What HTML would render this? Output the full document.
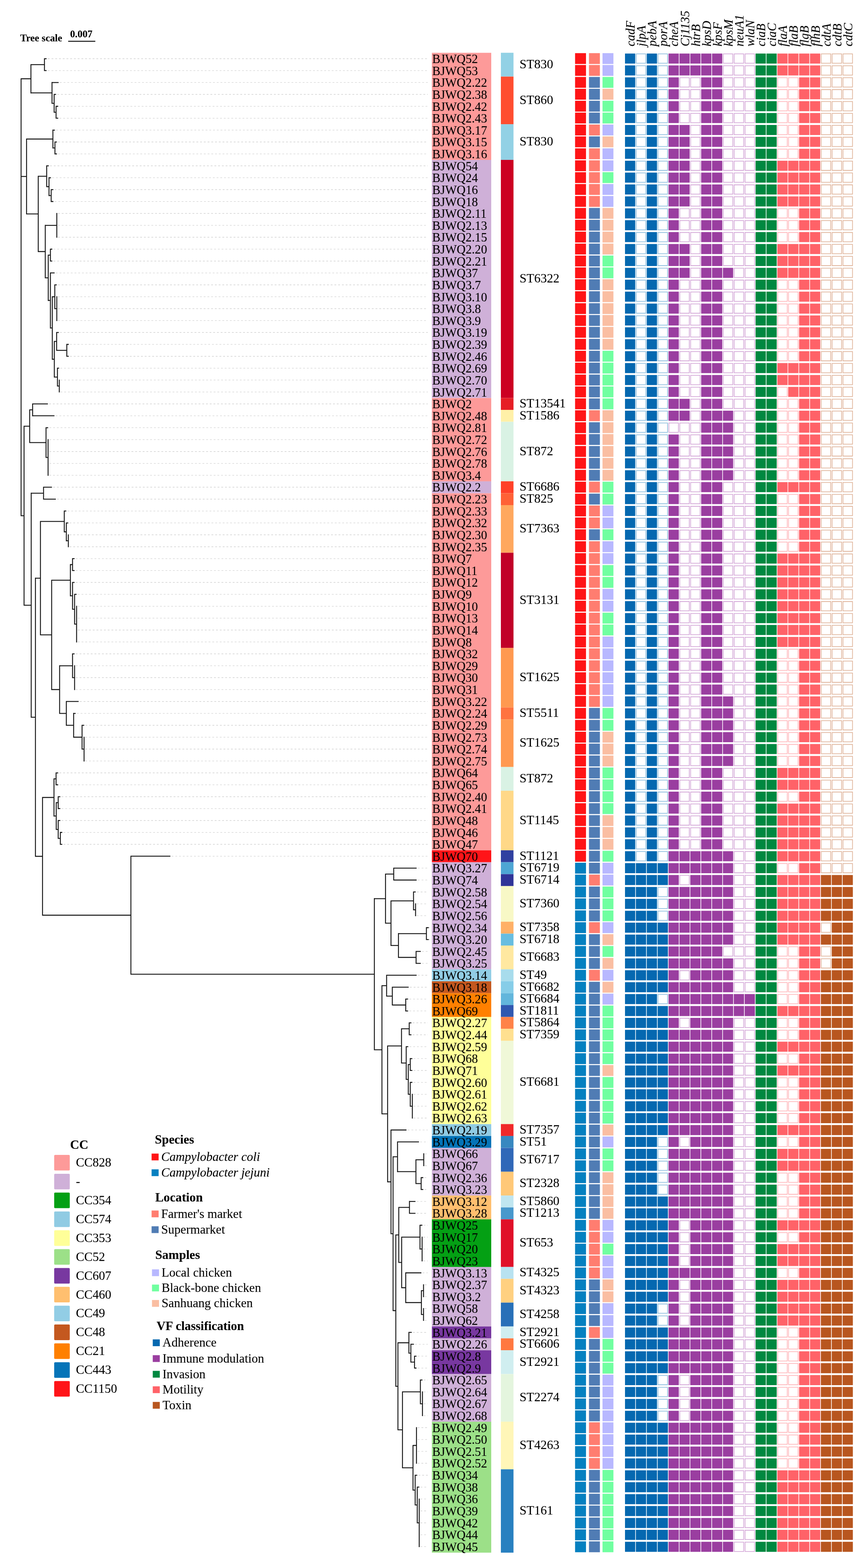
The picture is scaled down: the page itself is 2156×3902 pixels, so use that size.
<!DOCTYPE html>
<html lang="en"><head><meta charset="utf-8"><title>Phylogenetic tree of Campylobacter isolates</title>
<style>html,body{margin:0;padding:0;background:#fff}svg{display:block}text{font-family:"Liberation Serif","DejaVu Serif",serif;fill:#000;stroke:#000;stroke-width:.1px}.lb{font-size:30.6px}.st{font-size:31.4px}.hd{font-size:31px;font-style:italic}.lg{font-size:31.1px}.lt{font-size:31.4px;font-weight:bold}.it{font-style:italic}.ts{font-size:24.8px;font-weight:bold}</style></head><body>
<svg width="2156" height="3902" viewBox="0 0 2156 3902">
<rect width="2156" height="3902" fill="#fff"/>
<path d="M119 146.1H1065M119 175.7H1065M148 264.5H1065M148 294.2H1065M142.6 234.9H1065M149 205.3H1065M144.8 353.4H1065M144.8 383H1065M139.8 323.8H1065M135.9 471.9H1065M135.9 501.5H1065M130 442.3H1065M124.6 412.6H1065M144.4 531.1H1065M144.4 560.8H1065M144.4 590.4H1065M133.2 620H1065M133.2 649.6H1065M144.4 738.5H1065M144.4 768.1H1065M144.4 797.7H1065M144.4 708.9H1065M174.3 857H1065M174.3 886.6H1065M149.5 827.4H1065M150.6 945.8H1065M150.6 975.5H1065M150.2 916.2H1065M139 679.2H1065M122.3 1005.1H1065M138.6 1034.7H1065M122.7 1094H1065M122.7 1123.6H1065M122.7 1153.2H1065M122.7 1182.8H1065M123 1064.3H1065M132.4 1212.4H1065M142.1 1242.1H1065M173.1 1330.9H1065M173.1 1360.6H1065M173.1 1301.3H1065M168.1 1271.7H1065M188.7 1390.2H1065M188.7 1419.8H1065M193.7 1508.7H1065M193.7 1538.3H1065M193.7 1567.9H1065M193.7 1597.5H1065M193.7 1479H1065M188.7 1449.4H1065M188.7 1656.8H1065M188.7 1686.4H1065M188.7 1716H1065M188.7 1627.1H1065M212.3 1834.5H1065M212.3 1864.1H1065M212.3 1893.7H1065M212.7 1804.9H1065M191.4 1775.3H1065M198.8 1745.6H1065M147.9 1923.4H1065M147.9 1953H1065M153.2 1982.6H1065M153.2 2012.2H1065M158.1 2071.5H1065M158.1 2101.1H1065M153.2 2041.9H1065M1040.3 2160.3H1065M1040.3 2190H1065M1037.6 2249.2H1065M1037.6 2278.8H1065M1038 2219.6H1065M1070.4 2308.5H1065M1070.4 2338.1H1065M1050.6 2367.7H1065M1050.6 2397.3H1065M1019.1 2486.2H1065M1019.1 2515.8H1065M1020.5 2456.6H1065M1040.3 2426.9H1065M1027.3 2545.4H1065M1027.3 2575.1H1065M1029.6 2634.3H1065M1029.6 2663.9H1065M1029.6 2723.2H1065M1029.6 2752.8H1065M1029.6 2782.4H1065M1029.6 2693.5H1065M1019.5 2604.7H1065M1058 2871.3H1065M1058 2900.9H1065M1056.8 2930.5H1065M1056.8 2960.1H1065M1046.1 2841.7H1065M1037.4 2989.8H1065M1037.4 3019.4H1065M1053.9 3078.6H1065M1053.9 3108.2H1065M1053.9 3137.9H1065M1054.5 3049H1065M1057.4 3197.1H1065M1057.4 3226.7H1065M1057.4 3256.4H1065M1057.4 3286H1065M1052.1 3167.5H1065M1039.9 3374.8H1065M1039.9 3404.5H1065M1033.5 3345.2H1065M1028.2 3315.6H1065M1054.8 3463.7H1065M1054.8 3493.3H1065M1054.8 3523H1065M1054.8 3434.1H1065M1039.9 3552.6H1065M1039.9 3582.2H1065M1039.9 3611.8H1065M1039.9 3641.4H1065M1046.7 3730.3H1065M1046.7 3759.9H1065M1046.7 3789.6H1065M1046.7 3819.2H1065M1046.7 3848.8H1065M1047.1 3700.7H1065M1041.8 3671.1H1065M1015 2812H1065M427.2 2130.7H1065" fill="none" stroke="#c8c8c8" stroke-width="1.1" stroke-dasharray="4.6 4.7"/>
<path d="M110.7 144.9V176.8M139.6 263.4V295.3M134.8 233.8V280.5M129.5 204.1V258.3M77 159.7V232.4M136.8 352.3V384.2M131.7 322.6V369.4M127.4 470.7V502.7M122 441.1V487.9M116.2 411.5V465.6M141.4 530V591.5M125.5 618.9V650.8M141.4 737.3V798.9M136.4 707.7V769.3M166.3 855.8V887.7M141 826.2V872.9M147.6 944.7V976.6M143 915.1V961.8M135.2 848.4V939.6M130.2 737.3V895.2M125.5 678.1V817.4M120.1 633.7V748.9M112.7 559.6V692.4M95.2 437.4V627.2M66.1 344.8V533.4M81.2 1003.9V1035.9M119.7 1092.8V1184M114.6 1063.2V1139.5M73.9 1018.7V1102.5M108.4 1211.3V1243.2M170.1 1329.8V1361.7M165.1 1300.2V1346.9M160 1270.5V1324.7M180.6 1389V1420.9M190.7 1507.5V1598.7M185.7 1477.9V1554.2M180.6 1448.3V1517.2M175.2 1403.8V1483.9M185.7 1655.6V1717.2M180.6 1626V1687.5M209.3 1833.4V1894.9M204.3 1803.7V1865.3M183.3 1774.1V1835.7M165.1 1744.5V1806M148.4 1655.6V1776.4M128.6 1442.7V1717.2M100.7 1296.5V1581.1M139.6 1922.2V1954.1M144.9 1981.5V2013.4M150.2 2070.3V2102.3M144.9 2040.7V2087.4M140 1996.3V2065.2M134.4 1937V2031.9M980.2 2159.2V2191.1M1034.6 2248.1V2280M1029.5 2218.4V2265.2M1061.6 2307.3V2339.2M1035.9 2366.6V2398.5M992 2322.1V2383.7M973.4 2240.7V2354M959.8 2174V2298.5M1010.1 2485V2517M976.7 2455.4V2502.1M962.5 2425.8V2479.9M1018.8 2544.3V2576.2M1021.4 2633.1V2665.1M1026.6 2722V2783.6M1021.4 2692.4V2753.9M1016.5 2648V2724.3M1011.3 2603.5V2687.3M999.6 2559.1V2646.6M1055 2870.1V2902M1048.5 2929.4V2961.3M1035.5 2884.9V2946.5M989.7 2840.5V2916.9M1019.4 2988.6V3020.5M1050.9 3077.5V3139M1045.6 3047.9V3109.4M1054.4 3196V3227.9M1054.4 3255.2V3287.1M1049.1 3210.8V3272.3M1010.1 3166.3V3242.7M1000 3077.5V3205.7M992.8 3003.4V3142.7M1032 3373.7V3405.6M1022.9 3344.1V3390.8M1018 3314.5V3368.6M1051.8 3462.6V3524.1M1046.6 3432.9V3494.5M1036.9 3551.4V3642.6M1043.7 3729.2V3850M1038.8 3699.5V3790.7M1033.6 3669.9V3746.3M1028.2 3595.9V3709.2M1002 3462.6V3653.7M990.7 3340.4V3559.3M985.4 3071.9V3451M978.6 2877.5V3262.6M973.4 2810.9V3071.2M965 2601.7V2942.2M950.9 2451.7V2773.1M932 2235.1V2613.5M325.9 2129.6V2425.5M105.9 1983.3V2278.7M88.2 1437.6V2132.1M77.7 1226.1V1786M59.9 1059.5V1507.2M52.5 194.9V1284.5M110.7 146.1H116M110.7 175.7H116M139.6 264.5H145M139.6 294.2H145M134.8 234.9H139.6M134.8 279.3H139.6M129.5 205.3H146M129.5 257.1H134.8M77 160.9H110.7M77 231.2H129.5M136.8 353.4H141.8M136.8 383H141.8M131.7 323.8H136.8M131.7 368.2H136.8M127.4 471.9H132.9M127.4 501.5H132.9M122 442.3H127M122 486.7H127.4M116.2 412.6H121.6M116.2 464.5H122M125.5 620H130.2M125.5 649.6H130.2M136.4 708.9H141.4M136.4 768.1H141.4M166.3 857H171.3M166.3 886.6H171.3M141 827.4H146.5M141 871.8H166.3M143 916.2H147.2M143 960.7H147.6M135.2 849.6H141M135.2 938.4H143M130.2 738.5H136.4M130.2 894H135.2M125.5 679.2H136M125.5 816.2H130.2M120.1 634.8H125.5M120.1 747.7H125.5M112.7 560.8H141.4M112.7 691.3H120.1M95.2 438.6H116.2M95.2 626H112.7M66.1 346H131.7M66.1 532.3H95.2M81.2 1005.1H119.3M81.2 1034.7H135.6M114.6 1064.3H120M114.6 1138.4H119.7M73.9 1019.9H81.2M73.9 1101.4H114.6M108.4 1212.4H129.4M108.4 1242.1H139.1M165.1 1301.3H170.1M165.1 1345.7H170.1M160 1271.7H165.1M160 1323.5H165.1M180.6 1390.2H185.7M180.6 1419.8H185.7M185.7 1479H190.7M185.7 1553.1H190.7M180.6 1449.4H185.7M180.6 1516.1H185.7M175.2 1405H180.6M175.2 1482.7H180.6M180.6 1627.1H185.7M180.6 1686.4H185.7M204.3 1804.9H209.7M204.3 1864.1H209.3M183.3 1775.3H188.4M183.3 1834.5H204.3M165.1 1745.6H195.8M165.1 1804.9H183.3M148.4 1656.8H180.6M148.4 1775.3H165.1M128.6 1443.9H175.2M128.6 1716H148.4M100.7 1297.6H160M100.7 1579.9H128.6M139.6 1923.4H144.9M139.6 1953H144.9M144.9 1982.6H150.2M144.9 2012.2H150.2M150.2 2071.5H155.1M150.2 2101.1H155.1M144.9 2041.9H150.2M144.9 2086.3H150.2M140 1997.4H144.9M140 2064.1H144.9M134.4 1938.2H139.6M134.4 2030.7H140M980.2 2160.3H1037.3M980.2 2190H1037.3M1029.5 2219.6H1035M1029.5 2264H1034.6M1061.6 2308.5H1067.4M1061.6 2338.1H1067.4M1035.9 2367.7H1047.6M1035.9 2397.3H1047.6M992 2323.3H1061.6M992 2382.5H1035.9M973.4 2241.8H1029.5M973.4 2352.9H992M959.8 2175.2H980.2M959.8 2297.3H973.4M1010.1 2486.2H1016.1M1010.1 2515.8H1016.1M976.7 2456.6H1017.5M976.7 2501H1010.1M962.5 2426.9H1037.3M962.5 2478.8H976.7M1018.8 2545.4H1024.3M1018.8 2575.1H1024.3M1021.4 2634.3H1026.6M1021.4 2663.9H1026.6M1021.4 2693.5H1026.6M1021.4 2752.8H1026.6M1016.5 2649.1H1021.4M1016.5 2723.2H1021.4M1011.3 2604.7H1016.5M1011.3 2686.1H1016.5M999.6 2560.2H1018.8M999.6 2645.4H1011.3M1048.5 2930.5H1053.8M1048.5 2960.1H1053.8M1035.5 2886.1H1055M1035.5 2945.3H1048.5M989.7 2841.7H1043.1M989.7 2915.7H1035.5M1019.4 2989.8H1034.4M1019.4 3019.4H1034.4M1045.6 3049H1051.5M1045.6 3108.2H1050.9M1049.1 3211.9H1054.4M1049.1 3271.2H1054.4M1010.1 3167.5H1049.1M1010.1 3241.5H1049.1M1000 3078.6H1045.6M1000 3204.5H1010.1M992.8 3004.6H1019.4M992.8 3141.6H1000M1032 3374.8H1036.9M1032 3404.5H1036.9M1022.9 3345.2H1030.5M1022.9 3389.7H1032M1018 3315.6H1025.2M1018 3367.4H1022.9M1046.6 3434.1H1051.8M1046.6 3493.3H1051.8M1038.8 3700.7H1044.1M1038.8 3789.6H1043.7M1033.6 3671.1H1038.8M1033.6 3745.1H1038.8M1028.2 3597H1036.9M1028.2 3708.1H1033.6M1002 3463.7H1046.6M1002 3652.6H1028.2M990.7 3341.5H1018M990.7 3558.1H1002M985.4 3073.1H992.8M985.4 3449.8H990.7M978.6 2878.7H989.7M978.6 3261.5H985.4M973.4 2812H1012M973.4 3070.1H978.6M965 2602.8H999.6M965 2941H973.4M950.9 2452.9H962.5M950.9 2771.9H965M932 2236.3H959.8M932 2612.4H950.9M325.9 2130.7H424.2M325.9 2424.3H932M105.9 1984.5H134.4M105.9 2277.5H325.9M88.2 1438.8H100.7M88.2 2131H105.9M77.7 1227.3H108.4M77.7 1784.9H88.2M59.9 1060.6H73.9M59.9 1506.1H77.7M52.5 196H77M52.5 439.1H66.1M52.5 1283.3H59.9" fill="none" stroke="#161616" stroke-width="2.3"/>
<text class="ts" x="50.3" y="102.7">Tree scale</text>
<text class="ts" x="174.4" y="93.3">0.007</text>
<path d="M169.7 102.7H237.3" stroke="#1c1c1c" stroke-width="2.5"/>
<rect x="1075.2" y="131.4" width="147.8" height="266.6" fill="#fd9a99"/>
<rect x="1075.2" y="398" width="147.8" height="592.4" fill="#cfb0d8"/>
<rect x="1075.2" y="990.5" width="147.8" height="207.4" fill="#fd9a99"/>
<rect x="1075.2" y="1197.8" width="147.8" height="29.6" fill="#cfb0d8"/>
<rect x="1075.2" y="1227.5" width="147.8" height="888.7" fill="#fd9a99"/>
<rect x="1075.2" y="2116.1" width="147.8" height="29.6" fill="#ff1418"/>
<rect x="1075.2" y="2145.7" width="147.8" height="266.6" fill="#cfb0d8"/>
<rect x="1075.2" y="2412.3" width="147.8" height="29.6" fill="#92cde5"/>
<rect x="1075.2" y="2442" width="147.8" height="29.6" fill="#c4581f"/>
<rect x="1075.2" y="2471.6" width="147.8" height="59.2" fill="#ff8000"/>
<rect x="1075.2" y="2530.8" width="147.8" height="266.6" fill="#ffff99"/>
<rect x="1075.2" y="2797.4" width="147.8" height="29.6" fill="#90cbe3"/>
<rect x="1075.2" y="2827" width="147.8" height="29.6" fill="#0574b8"/>
<rect x="1075.2" y="2856.7" width="147.8" height="118.5" fill="#cfb0d8"/>
<rect x="1075.2" y="2975.2" width="147.8" height="59.2" fill="#ffbf6f"/>
<rect x="1075.2" y="3034.4" width="147.8" height="118.5" fill="#04a014"/>
<rect x="1075.2" y="3152.9" width="147.8" height="148.1" fill="#cfb0d8"/>
<rect x="1075.2" y="3301" width="147.8" height="29.6" fill="#7838a0"/>
<rect x="1075.2" y="3330.6" width="147.8" height="29.6" fill="#cfb0d8"/>
<rect x="1075.2" y="3360.2" width="147.8" height="59.2" fill="#7838a0"/>
<rect x="1075.2" y="3419.5" width="147.8" height="118.5" fill="#cfb0d8"/>
<rect x="1075.2" y="3538" width="147.8" height="325.8" fill="#9ce088"/>
<rect x="1247" y="131.3" width="31.4" height="59.2" fill="#92d1e5"/>
<rect x="1247" y="190.6" width="31.4" height="118.5" fill="#ff4d30"/>
<rect x="1247" y="309.1" width="31.4" height="88.9" fill="#92d1e5"/>
<rect x="1247" y="397.9" width="31.4" height="592.4" fill="#cc0022"/>
<rect x="1247" y="990.4" width="31.4" height="29.6" fill="#e61e25"/>
<rect x="1247" y="1020" width="31.4" height="29.6" fill="#fff0a8"/>
<rect x="1247" y="1049.6" width="31.4" height="148.1" fill="#d9f2e4"/>
<rect x="1247" y="1197.7" width="31.4" height="29.6" fill="#ff4128"/>
<rect x="1247" y="1227.4" width="31.4" height="29.6" fill="#ff6136"/>
<rect x="1247" y="1257" width="31.4" height="118.5" fill="#ffa85e"/>
<rect x="1247" y="1375.5" width="31.4" height="237" fill="#c10028"/>
<rect x="1247" y="1612.4" width="31.4" height="148.1" fill="#ff9950"/>
<rect x="1247" y="1760.5" width="31.4" height="29.6" fill="#ff7340"/>
<rect x="1247" y="1790.2" width="31.4" height="118.5" fill="#ff9950"/>
<rect x="1247" y="1908.7" width="31.4" height="59.2" fill="#d9f2e4"/>
<rect x="1247" y="1967.9" width="31.4" height="148.1" fill="#ffd888"/>
<rect x="1247" y="2116" width="31.4" height="29.6" fill="#3040a0"/>
<rect x="1247" y="2145.6" width="31.4" height="29.6" fill="#4ea6d4"/>
<rect x="1247" y="2175.3" width="31.4" height="29.6" fill="#303498"/>
<rect x="1247" y="2204.9" width="31.4" height="88.9" fill="#f8f8c6"/>
<rect x="1247" y="2293.7" width="31.4" height="29.6" fill="#ffb066"/>
<rect x="1247" y="2323.4" width="31.4" height="29.6" fill="#68bde0"/>
<rect x="1247" y="2353" width="31.4" height="59.2" fill="#ffe8a0"/>
<rect x="1247" y="2412.2" width="31.4" height="29.6" fill="#a8dcec"/>
<rect x="1247" y="2441.9" width="31.4" height="29.6" fill="#86cde8"/>
<rect x="1247" y="2471.5" width="31.4" height="29.6" fill="#62b6dc"/>
<rect x="1247" y="2501.1" width="31.4" height="29.6" fill="#3058b0"/>
<rect x="1247" y="2530.7" width="31.4" height="29.6" fill="#ff8248"/>
<rect x="1247" y="2560.3" width="31.4" height="29.6" fill="#ffe090"/>
<rect x="1247" y="2590" width="31.4" height="207.4" fill="#f0f8d8"/>
<rect x="1247" y="2797.3" width="31.4" height="29.6" fill="#f02828"/>
<rect x="1247" y="2826.9" width="31.4" height="29.6" fill="#3888c0"/>
<rect x="1247" y="2856.6" width="31.4" height="59.2" fill="#3068b8"/>
<rect x="1247" y="2915.8" width="31.4" height="59.2" fill="#ffc878"/>
<rect x="1247" y="2975.1" width="31.4" height="29.6" fill="#c0e6f0"/>
<rect x="1247" y="3004.7" width="31.4" height="29.6" fill="#4898cc"/>
<rect x="1247" y="3034.3" width="31.4" height="118.5" fill="#e01028"/>
<rect x="1247" y="3152.8" width="31.4" height="29.6" fill="#b8e2f0"/>
<rect x="1247" y="3182.4" width="31.4" height="59.2" fill="#ffd080"/>
<rect x="1247" y="3241.6" width="31.4" height="59.2" fill="#2870b8"/>
<rect x="1247" y="3300.9" width="31.4" height="29.6" fill="#d0eef0"/>
<rect x="1247" y="3330.5" width="31.4" height="29.6" fill="#ff7840"/>
<rect x="1247" y="3360.1" width="31.4" height="59.2" fill="#d0eef0"/>
<rect x="1247" y="3419.4" width="31.4" height="118.5" fill="#e4f5de"/>
<rect x="1247" y="3537.9" width="31.4" height="118.5" fill="#fff6b8"/>
<rect x="1247" y="3656.4" width="31.4" height="207.4" fill="#2880c0"/>
<g class="lb">
<text x="1075.9" y="157.1">BJWQ52</text>
<text x="1075.9" y="186.7">BJWQ53</text>
<text x="1075.9" y="216.3">BJWQ2.22</text>
<text x="1075.9" y="245.9">BJWQ2.38</text>
<text x="1075.9" y="275.5">BJWQ2.42</text>
<text x="1075.9" y="305.2">BJWQ2.43</text>
<text x="1075.9" y="334.8">BJWQ3.17</text>
<text x="1075.9" y="364.4">BJWQ3.15</text>
<text x="1075.9" y="394">BJWQ3.16</text>
<text x="1075.9" y="423.6">BJWQ54</text>
<text x="1075.9" y="453.3">BJWQ24</text>
<text x="1075.9" y="482.9">BJWQ16</text>
<text x="1075.9" y="512.5">BJWQ18</text>
<text x="1075.9" y="542.1">BJWQ2.11</text>
<text x="1075.9" y="571.8">BJWQ2.13</text>
<text x="1075.9" y="601.4">BJWQ2.15</text>
<text x="1075.9" y="631">BJWQ2.20</text>
<text x="1075.9" y="660.6">BJWQ2.21</text>
<text x="1075.9" y="690.2">BJWQ37</text>
<text x="1075.9" y="719.9">BJWQ3.7</text>
<text x="1075.9" y="749.5">BJWQ3.10</text>
<text x="1075.9" y="779.1">BJWQ3.8</text>
<text x="1075.9" y="808.7">BJWQ3.9</text>
<text x="1075.9" y="838.4">BJWQ3.19</text>
<text x="1075.9" y="868">BJWQ2.39</text>
<text x="1075.9" y="897.6">BJWQ2.46</text>
<text x="1075.9" y="927.2">BJWQ2.69</text>
<text x="1075.9" y="956.8">BJWQ2.70</text>
<text x="1075.9" y="986.5">BJWQ2.71</text>
<text x="1075.9" y="1016.1">BJWQ2</text>
<text x="1075.9" y="1045.7">BJWQ2.48</text>
<text x="1075.9" y="1075.3">BJWQ2.81</text>
<text x="1075.9" y="1105">BJWQ2.72</text>
<text x="1075.9" y="1134.6">BJWQ2.76</text>
<text x="1075.9" y="1164.2">BJWQ2.78</text>
<text x="1075.9" y="1193.8">BJWQ3.4</text>
<text x="1075.9" y="1223.4">BJWQ2.2</text>
<text x="1075.9" y="1253.1">BJWQ2.23</text>
<text x="1075.9" y="1282.7">BJWQ2.33</text>
<text x="1075.9" y="1312.3">BJWQ2.32</text>
<text x="1075.9" y="1341.9">BJWQ2.30</text>
<text x="1075.9" y="1371.6">BJWQ2.35</text>
<text x="1075.9" y="1401.2">BJWQ7</text>
<text x="1075.9" y="1430.8">BJWQ11</text>
<text x="1075.9" y="1460.4">BJWQ12</text>
<text x="1075.9" y="1490">BJWQ9</text>
<text x="1075.9" y="1519.7">BJWQ10</text>
<text x="1075.9" y="1549.3">BJWQ13</text>
<text x="1075.9" y="1578.9">BJWQ14</text>
<text x="1075.9" y="1608.5">BJWQ8</text>
<text x="1075.9" y="1638.1">BJWQ32</text>
<text x="1075.9" y="1667.8">BJWQ29</text>
<text x="1075.9" y="1697.4">BJWQ30</text>
<text x="1075.9" y="1727">BJWQ31</text>
<text x="1075.9" y="1756.6">BJWQ3.22</text>
<text x="1075.9" y="1786.3">BJWQ2.24</text>
<text x="1075.9" y="1815.9">BJWQ2.29</text>
<text x="1075.9" y="1845.5">BJWQ2.73</text>
<text x="1075.9" y="1875.1">BJWQ2.74</text>
<text x="1075.9" y="1904.7">BJWQ2.75</text>
<text x="1075.9" y="1934.4">BJWQ64</text>
<text x="1075.9" y="1964">BJWQ65</text>
<text x="1075.9" y="1993.6">BJWQ2.40</text>
<text x="1075.9" y="2023.2">BJWQ2.41</text>
<text x="1075.9" y="2052.9">BJWQ48</text>
<text x="1075.9" y="2082.5">BJWQ46</text>
<text x="1075.9" y="2112.1">BJWQ47</text>
<text x="1075.9" y="2141.7">BJWQ70</text>
<text x="1075.9" y="2171.3">BJWQ3.27</text>
<text x="1075.9" y="2201">BJWQ74</text>
<text x="1075.9" y="2230.6">BJWQ2.58</text>
<text x="1075.9" y="2260.2">BJWQ2.54</text>
<text x="1075.9" y="2289.8">BJWQ2.56</text>
<text x="1075.9" y="2319.5">BJWQ2.34</text>
<text x="1075.9" y="2349.1">BJWQ3.20</text>
<text x="1075.9" y="2378.7">BJWQ2.45</text>
<text x="1075.9" y="2408.3">BJWQ3.25</text>
<text x="1075.9" y="2437.9">BJWQ3.14</text>
<text x="1075.9" y="2467.6">BJWQ3.18</text>
<text x="1075.9" y="2497.2">BJWQ3.26</text>
<text x="1075.9" y="2526.8">BJWQ69</text>
<text x="1075.9" y="2556.4">BJWQ2.27</text>
<text x="1075.9" y="2586.1">BJWQ2.44</text>
<text x="1075.9" y="2615.7">BJWQ2.59</text>
<text x="1075.9" y="2645.3">BJWQ68</text>
<text x="1075.9" y="2674.9">BJWQ71</text>
<text x="1075.9" y="2704.5">BJWQ2.60</text>
<text x="1075.9" y="2734.2">BJWQ2.61</text>
<text x="1075.9" y="2763.8">BJWQ2.62</text>
<text x="1075.9" y="2793.4">BJWQ2.63</text>
<text x="1075.9" y="2823">BJWQ2.19</text>
<text x="1075.9" y="2852.7">BJWQ3.29</text>
<text x="1075.9" y="2882.3">BJWQ66</text>
<text x="1075.9" y="2911.9">BJWQ67</text>
<text x="1075.9" y="2941.5">BJWQ2.36</text>
<text x="1075.9" y="2971.1">BJWQ3.23</text>
<text x="1075.9" y="3000.8">BJWQ3.12</text>
<text x="1075.9" y="3030.4">BJWQ3.28</text>
<text x="1075.9" y="3060">BJWQ25</text>
<text x="1075.9" y="3089.6">BJWQ17</text>
<text x="1075.9" y="3119.2">BJWQ20</text>
<text x="1075.9" y="3148.9">BJWQ23</text>
<text x="1075.9" y="3178.5">BJWQ3.13</text>
<text x="1075.9" y="3208.1">BJWQ2.37</text>
<text x="1075.9" y="3237.7">BJWQ3.2</text>
<text x="1075.9" y="3267.4">BJWQ58</text>
<text x="1075.9" y="3297">BJWQ62</text>
<text x="1075.9" y="3326.6">BJWQ3.21</text>
<text x="1075.9" y="3356.2">BJWQ2.26</text>
<text x="1075.9" y="3385.8">BJWQ2.8</text>
<text x="1075.9" y="3415.5">BJWQ2.9</text>
<text x="1075.9" y="3445.1">BJWQ2.65</text>
<text x="1075.9" y="3474.7">BJWQ2.64</text>
<text x="1075.9" y="3504.3">BJWQ2.67</text>
<text x="1075.9" y="3534">BJWQ2.68</text>
<text x="1075.9" y="3563.6">BJWQ2.49</text>
<text x="1075.9" y="3593.2">BJWQ2.50</text>
<text x="1075.9" y="3622.8">BJWQ2.51</text>
<text x="1075.9" y="3652.4">BJWQ2.52</text>
<text x="1075.9" y="3682.1">BJWQ34</text>
<text x="1075.9" y="3711.7">BJWQ38</text>
<text x="1075.9" y="3741.3">BJWQ36</text>
<text x="1075.9" y="3770.9">BJWQ39</text>
<text x="1075.9" y="3800.6">BJWQ42</text>
<text x="1075.9" y="3830.2">BJWQ44</text>
<text x="1075.9" y="3859.8">BJWQ45</text>
</g>
<g class="st">
<text x="1293.4" y="169.8">ST830</text>
<text x="1293.4" y="258.6">ST860</text>
<text x="1293.4" y="362.3">ST830</text>
<text x="1293.4" y="703">ST6322</text>
<text x="1293.4" y="1014">ST13541</text>
<text x="1293.4" y="1043.6">ST1586</text>
<text x="1293.4" y="1132.5">ST872</text>
<text x="1293.4" y="1221.3">ST6686</text>
<text x="1293.4" y="1251">ST825</text>
<text x="1293.4" y="1325">ST7363</text>
<text x="1293.4" y="1502.8">ST3131</text>
<text x="1293.4" y="1695.3">ST1625</text>
<text x="1293.4" y="1784.2">ST5511</text>
<text x="1293.4" y="1858.2">ST1625</text>
<text x="1293.4" y="1947.1">ST872</text>
<text x="1293.4" y="2050.8">ST1145</text>
<text x="1293.4" y="2139.6">ST1121</text>
<text x="1293.4" y="2169.2">ST6719</text>
<text x="1293.4" y="2198.9">ST6714</text>
<text x="1293.4" y="2258.1">ST7360</text>
<text x="1293.4" y="2317.4">ST7358</text>
<text x="1293.4" y="2347">ST6718</text>
<text x="1293.4" y="2391.4">ST6683</text>
<text x="1293.4" y="2435.8">ST49</text>
<text x="1293.4" y="2465.5">ST6682</text>
<text x="1293.4" y="2495.1">ST6684</text>
<text x="1293.4" y="2524.7">ST1811</text>
<text x="1293.4" y="2554.3">ST5864</text>
<text x="1293.4" y="2584">ST7359</text>
<text x="1293.4" y="2702.4">ST6681</text>
<text x="1293.4" y="2820.9">ST7357</text>
<text x="1293.4" y="2850.6">ST51</text>
<text x="1293.4" y="2895">ST6717</text>
<text x="1293.4" y="2954.2">ST2328</text>
<text x="1293.4" y="2998.7">ST5860</text>
<text x="1293.4" y="3028.3">ST1213</text>
<text x="1293.4" y="3102.3">ST653</text>
<text x="1293.4" y="3176.4">ST4325</text>
<text x="1293.4" y="3220.8">ST4323</text>
<text x="1293.4" y="3280.1">ST4258</text>
<text x="1293.4" y="3324.5">ST2921</text>
<text x="1293.4" y="3354.1">ST6606</text>
<text x="1293.4" y="3398.6">ST2921</text>
<text x="1293.4" y="3487.4">ST2274</text>
<text x="1293.4" y="3605.9">ST4263</text>
<text x="1293.4" y="3768.8">ST161</text>
</g>
<path d="M1431.7 132.2h27.2v27h-27.2zM1431.7 161.8h27.2v27h-27.2zM1431.7 191.5h27.2v27h-27.2zM1431.7 221.1h27.2v27h-27.2zM1431.7 250.7h27.2v27h-27.2zM1431.7 280.3h27.2v27h-27.2zM1431.7 310h27.2v27h-27.2zM1431.7 339.6h27.2v27h-27.2zM1431.7 369.2h27.2v27h-27.2zM1431.7 398.9h27.2v27h-27.2zM1431.7 428.5h27.2v27h-27.2zM1431.7 458.1h27.2v27h-27.2zM1431.7 487.7h27.2v27h-27.2zM1431.7 517.4h27.2v27h-27.2zM1431.7 547h27.2v27h-27.2zM1431.7 576.6h27.2v27h-27.2zM1431.7 606.2h27.2v27h-27.2zM1431.7 635.9h27.2v27h-27.2zM1431.7 665.5h27.2v27h-27.2zM1431.7 695.1h27.2v27h-27.2zM1431.7 724.8h27.2v27h-27.2zM1431.7 754.4h27.2v27h-27.2zM1431.7 784h27.2v27h-27.2zM1431.7 813.6h27.2v27h-27.2zM1431.7 843.3h27.2v27h-27.2zM1431.7 872.9h27.2v27h-27.2zM1431.7 902.5h27.2v27h-27.2zM1431.7 932.2h27.2v27h-27.2zM1431.7 961.8h27.2v27h-27.2zM1431.7 991.4h27.2v27h-27.2zM1431.7 1021h27.2v27h-27.2zM1431.7 1050.7h27.2v27h-27.2zM1431.7 1080.3h27.2v27h-27.2zM1431.7 1109.9h27.2v27h-27.2zM1431.7 1139.6h27.2v27h-27.2zM1431.7 1169.2h27.2v27h-27.2zM1431.7 1198.8h27.2v27h-27.2zM1431.7 1228.4h27.2v27h-27.2zM1431.7 1258.1h27.2v27h-27.2zM1431.7 1287.7h27.2v27h-27.2zM1431.7 1317.3h27.2v27h-27.2zM1431.7 1346.9h27.2v27h-27.2zM1431.7 1376.6h27.2v27h-27.2zM1431.7 1406.2h27.2v27h-27.2zM1431.7 1435.8h27.2v27h-27.2zM1431.7 1465.5h27.2v27h-27.2zM1431.7 1495.1h27.2v27h-27.2zM1431.7 1524.7h27.2v27h-27.2zM1431.7 1554.3h27.2v27h-27.2zM1431.7 1584h27.2v27h-27.2zM1431.7 1613.6h27.2v27h-27.2zM1431.7 1643.2h27.2v27h-27.2zM1431.7 1672.9h27.2v27h-27.2zM1431.7 1702.5h27.2v27h-27.2zM1431.7 1732.1h27.2v27h-27.2zM1431.7 1761.7h27.2v27h-27.2zM1431.7 1791.4h27.2v27h-27.2zM1431.7 1821h27.2v27h-27.2zM1431.7 1850.6h27.2v27h-27.2zM1431.7 1880.3h27.2v27h-27.2zM1431.7 1909.9h27.2v27h-27.2zM1431.7 1939.5h27.2v27h-27.2zM1431.7 1969.1h27.2v27h-27.2zM1431.7 1998.8h27.2v27h-27.2zM1431.7 2028.4h27.2v27h-27.2zM1431.7 2058h27.2v27h-27.2zM1431.7 2087.6h27.2v27h-27.2zM1431.7 2117.3h27.2v27h-27.2z" fill="#ff1416"/>
<path d="M1466.3 132.2h27.2v27h-27.2zM1466.3 161.8h27.2v27h-27.2zM1466.3 310h27.2v27h-27.2zM1466.3 369.2h27.2v27h-27.2zM1466.3 398.9h27.2v27h-27.2zM1466.3 428.5h27.2v27h-27.2zM1466.3 458.1h27.2v27h-27.2zM1466.3 487.7h27.2v27h-27.2zM1466.3 1021h27.2v27h-27.2zM1466.3 1198.8h27.2v27h-27.2zM1466.3 1258.1h27.2v27h-27.2zM1466.3 1287.7h27.2v27h-27.2zM1466.3 1346.9h27.2v27h-27.2zM1466.3 1376.6h27.2v27h-27.2zM1466.3 1406.2h27.2v27h-27.2zM1466.3 1435.8h27.2v27h-27.2zM1466.3 1465.5h27.2v27h-27.2zM1466.3 1495.1h27.2v27h-27.2zM1466.3 1524.7h27.2v27h-27.2zM1466.3 1554.3h27.2v27h-27.2zM1466.3 1584h27.2v27h-27.2zM1466.3 1613.6h27.2v27h-27.2zM1466.3 1643.2h27.2v27h-27.2zM1466.3 1672.9h27.2v27h-27.2zM1466.3 1702.5h27.2v27h-27.2zM1466.3 1732.1h27.2v27h-27.2zM1466.3 2176.5h27.2v27h-27.2zM1466.3 2295h27.2v27h-27.2zM1466.3 2413.6h27.2v27h-27.2zM1466.3 3035.7h27.2v27h-27.2zM1466.3 3065.4h27.2v27h-27.2zM1466.3 3095h27.2v27h-27.2zM1466.3 3124.6h27.2v27h-27.2zM1466.3 3154.3h27.2v27h-27.2zM1466.3 3302.4h27.2v27h-27.2zM1466.3 3539.4h27.2v27h-27.2zM1466.3 3569h27.2v27h-27.2zM1466.3 3598.7h27.2v27h-27.2zM1466.3 3628.3h27.2v27h-27.2z" fill="#ff7d70"/>
<path d="M1500 132.2h27.2v27h-27.2zM1500 161.8h27.2v27h-27.2zM1500 310h27.2v27h-27.2zM1500 369.2h27.2v27h-27.2zM1500 398.9h27.2v27h-27.2zM1500 458.1h27.2v27h-27.2zM1500 487.7h27.2v27h-27.2zM1500 1258.1h27.2v27h-27.2zM1500 1287.7h27.2v27h-27.2zM1500 1346.9h27.2v27h-27.2zM1500 1376.6h27.2v27h-27.2zM1500 1465.5h27.2v27h-27.2zM1500 1495.1h27.2v27h-27.2zM1500 1584h27.2v27h-27.2zM1500 1613.6h27.2v27h-27.2zM1500 1643.2h27.2v27h-27.2zM1500 1672.9h27.2v27h-27.2zM1500 1702.5h27.2v27h-27.2zM1500 1732.1h27.2v27h-27.2zM1500 2146.9h27.2v27h-27.2zM1500 2176.5h27.2v27h-27.2zM1500 2295h27.2v27h-27.2zM1500 2413.6h27.2v27h-27.2zM1500 2472.8h27.2v27h-27.2zM1500 2828.3h27.2v27h-27.2zM1500 3035.7h27.2v27h-27.2zM1500 3065.4h27.2v27h-27.2zM1500 3124.6h27.2v27h-27.2zM1500 3154.3h27.2v27h-27.2zM1500 3243.1h27.2v27h-27.2zM1500 3272.8h27.2v27h-27.2zM1500 3302.4h27.2v27h-27.2zM1500 3420.9h27.2v27h-27.2zM1500 3450.5h27.2v27h-27.2zM1500 3480.2h27.2v27h-27.2zM1500 3509.8h27.2v27h-27.2zM1500 3539.4h27.2v27h-27.2zM1500 3569h27.2v27h-27.2zM1500 3598.7h27.2v27h-27.2zM1500 3628.3h27.2v27h-27.2z" fill="#b8b8ff"/>
<path d="M1466.3 191.5h27.2v27h-27.2zM1466.3 221.1h27.2v27h-27.2zM1466.3 250.7h27.2v27h-27.2zM1466.3 280.3h27.2v27h-27.2zM1466.3 339.6h27.2v27h-27.2zM1466.3 517.4h27.2v27h-27.2zM1466.3 547h27.2v27h-27.2zM1466.3 576.6h27.2v27h-27.2zM1466.3 606.2h27.2v27h-27.2zM1466.3 635.9h27.2v27h-27.2zM1466.3 665.5h27.2v27h-27.2zM1466.3 695.1h27.2v27h-27.2zM1466.3 724.8h27.2v27h-27.2zM1466.3 754.4h27.2v27h-27.2zM1466.3 784h27.2v27h-27.2zM1466.3 813.6h27.2v27h-27.2zM1466.3 843.3h27.2v27h-27.2zM1466.3 872.9h27.2v27h-27.2zM1466.3 902.5h27.2v27h-27.2zM1466.3 932.2h27.2v27h-27.2zM1466.3 961.8h27.2v27h-27.2zM1466.3 991.4h27.2v27h-27.2zM1466.3 1050.7h27.2v27h-27.2zM1466.3 1080.3h27.2v27h-27.2zM1466.3 1109.9h27.2v27h-27.2zM1466.3 1139.6h27.2v27h-27.2zM1466.3 1169.2h27.2v27h-27.2zM1466.3 1228.4h27.2v27h-27.2zM1466.3 1317.3h27.2v27h-27.2zM1466.3 1761.7h27.2v27h-27.2zM1466.3 1791.4h27.2v27h-27.2zM1466.3 1821h27.2v27h-27.2zM1466.3 1850.6h27.2v27h-27.2zM1466.3 1880.3h27.2v27h-27.2zM1466.3 1909.9h27.2v27h-27.2zM1466.3 1939.5h27.2v27h-27.2zM1466.3 1969.1h27.2v27h-27.2zM1466.3 1998.8h27.2v27h-27.2zM1466.3 2028.4h27.2v27h-27.2zM1466.3 2058h27.2v27h-27.2zM1466.3 2087.6h27.2v27h-27.2zM1466.3 2117.3h27.2v27h-27.2zM1466.3 2146.9h27.2v27h-27.2zM1466.3 2206.2h27.2v27h-27.2zM1466.3 2235.8h27.2v27h-27.2zM1466.3 2265.4h27.2v27h-27.2zM1466.3 2324.7h27.2v27h-27.2zM1466.3 2354.3h27.2v27h-27.2zM1466.3 2383.9h27.2v27h-27.2zM1466.3 2443.2h27.2v27h-27.2zM1466.3 2472.8h27.2v27h-27.2zM1466.3 2502.4h27.2v27h-27.2zM1466.3 2532.1h27.2v27h-27.2zM1466.3 2561.7h27.2v27h-27.2zM1466.3 2591.3h27.2v27h-27.2zM1466.3 2621h27.2v27h-27.2zM1466.3 2650.6h27.2v27h-27.2zM1466.3 2680.2h27.2v27h-27.2zM1466.3 2709.8h27.2v27h-27.2zM1466.3 2739.5h27.2v27h-27.2zM1466.3 2769.1h27.2v27h-27.2zM1466.3 2798.7h27.2v27h-27.2zM1466.3 2828.3h27.2v27h-27.2zM1466.3 2858h27.2v27h-27.2zM1466.3 2887.6h27.2v27h-27.2zM1466.3 2917.2h27.2v27h-27.2zM1466.3 2946.9h27.2v27h-27.2zM1466.3 2976.5h27.2v27h-27.2zM1466.3 3006.1h27.2v27h-27.2zM1466.3 3183.9h27.2v27h-27.2zM1466.3 3213.5h27.2v27h-27.2zM1466.3 3243.1h27.2v27h-27.2zM1466.3 3272.8h27.2v27h-27.2zM1466.3 3332h27.2v27h-27.2zM1466.3 3361.7h27.2v27h-27.2zM1466.3 3391.3h27.2v27h-27.2zM1466.3 3420.9h27.2v27h-27.2zM1466.3 3450.5h27.2v27h-27.2zM1466.3 3480.2h27.2v27h-27.2zM1466.3 3509.8h27.2v27h-27.2zM1466.3 3657.9h27.2v27h-27.2zM1466.3 3687.6h27.2v27h-27.2zM1466.3 3717.2h27.2v27h-27.2zM1466.3 3746.8h27.2v27h-27.2zM1466.3 3776.4h27.2v27h-27.2zM1466.3 3806.1h27.2v27h-27.2zM1466.3 3835.7h27.2v27h-27.2z" fill="#507cb4"/>
<path d="M1500 191.5h27.2v27h-27.2zM1500 250.7h27.2v27h-27.2zM1500 280.3h27.2v27h-27.2zM1500 428.5h27.2v27h-27.2zM1500 635.9h27.2v27h-27.2zM1500 665.5h27.2v27h-27.2zM1500 872.9h27.2v27h-27.2zM1500 902.5h27.2v27h-27.2zM1500 932.2h27.2v27h-27.2zM1500 961.8h27.2v27h-27.2zM1500 991.4h27.2v27h-27.2zM1500 1198.8h27.2v27h-27.2zM1500 1228.4h27.2v27h-27.2zM1500 1317.3h27.2v27h-27.2zM1500 1406.2h27.2v27h-27.2zM1500 1435.8h27.2v27h-27.2zM1500 1524.7h27.2v27h-27.2zM1500 1554.3h27.2v27h-27.2zM1500 1761.7h27.2v27h-27.2zM1500 1791.4h27.2v27h-27.2zM1500 1909.9h27.2v27h-27.2zM1500 1939.5h27.2v27h-27.2zM1500 1969.1h27.2v27h-27.2zM1500 1998.8h27.2v27h-27.2zM1500 2117.3h27.2v27h-27.2zM1500 2206.2h27.2v27h-27.2zM1500 2235.8h27.2v27h-27.2zM1500 2265.4h27.2v27h-27.2zM1500 2354.3h27.2v27h-27.2zM1500 2502.4h27.2v27h-27.2zM1500 2532.1h27.2v27h-27.2zM1500 2561.7h27.2v27h-27.2zM1500 2591.3h27.2v27h-27.2zM1500 2621h27.2v27h-27.2zM1500 2680.2h27.2v27h-27.2zM1500 2709.8h27.2v27h-27.2zM1500 2739.5h27.2v27h-27.2zM1500 2769.1h27.2v27h-27.2zM1500 2858h27.2v27h-27.2zM1500 2887.6h27.2v27h-27.2zM1500 3095h27.2v27h-27.2zM1500 3332h27.2v27h-27.2zM1500 3361.7h27.2v27h-27.2zM1500 3391.3h27.2v27h-27.2zM1500 3657.9h27.2v27h-27.2zM1500 3687.6h27.2v27h-27.2zM1500 3717.2h27.2v27h-27.2zM1500 3746.8h27.2v27h-27.2zM1500 3776.4h27.2v27h-27.2zM1500 3806.1h27.2v27h-27.2zM1500 3835.7h27.2v27h-27.2z" fill="#70ffa0"/>
<path d="M1500 221.1h27.2v27h-27.2zM1500 339.6h27.2v27h-27.2zM1500 517.4h27.2v27h-27.2zM1500 547h27.2v27h-27.2zM1500 576.6h27.2v27h-27.2zM1500 606.2h27.2v27h-27.2zM1500 695.1h27.2v27h-27.2zM1500 724.8h27.2v27h-27.2zM1500 754.4h27.2v27h-27.2zM1500 784h27.2v27h-27.2zM1500 813.6h27.2v27h-27.2zM1500 843.3h27.2v27h-27.2zM1500 1021h27.2v27h-27.2zM1500 1050.7h27.2v27h-27.2zM1500 1080.3h27.2v27h-27.2zM1500 1109.9h27.2v27h-27.2zM1500 1139.6h27.2v27h-27.2zM1500 1169.2h27.2v27h-27.2zM1500 1821h27.2v27h-27.2zM1500 1850.6h27.2v27h-27.2zM1500 1880.3h27.2v27h-27.2zM1500 2028.4h27.2v27h-27.2zM1500 2058h27.2v27h-27.2zM1500 2087.6h27.2v27h-27.2zM1500 2324.7h27.2v27h-27.2zM1500 2383.9h27.2v27h-27.2zM1500 2443.2h27.2v27h-27.2zM1500 2650.6h27.2v27h-27.2zM1500 2798.7h27.2v27h-27.2zM1500 2917.2h27.2v27h-27.2zM1500 2946.9h27.2v27h-27.2zM1500 2976.5h27.2v27h-27.2zM1500 3006.1h27.2v27h-27.2zM1500 3183.9h27.2v27h-27.2zM1500 3213.5h27.2v27h-27.2z" fill="#fabea2"/>
<path d="M1431.7 2146.9h27.2v27h-27.2zM1431.7 2176.5h27.2v27h-27.2zM1431.7 2206.2h27.2v27h-27.2zM1431.7 2235.8h27.2v27h-27.2zM1431.7 2265.4h27.2v27h-27.2zM1431.7 2295h27.2v27h-27.2zM1431.7 2324.7h27.2v27h-27.2zM1431.7 2354.3h27.2v27h-27.2zM1431.7 2383.9h27.2v27h-27.2zM1431.7 2413.6h27.2v27h-27.2zM1431.7 2443.2h27.2v27h-27.2zM1431.7 2472.8h27.2v27h-27.2zM1431.7 2502.4h27.2v27h-27.2zM1431.7 2532.1h27.2v27h-27.2zM1431.7 2561.7h27.2v27h-27.2zM1431.7 2591.3h27.2v27h-27.2zM1431.7 2621h27.2v27h-27.2zM1431.7 2650.6h27.2v27h-27.2zM1431.7 2680.2h27.2v27h-27.2zM1431.7 2709.8h27.2v27h-27.2zM1431.7 2739.5h27.2v27h-27.2zM1431.7 2769.1h27.2v27h-27.2zM1431.7 2798.7h27.2v27h-27.2zM1431.7 2828.3h27.2v27h-27.2zM1431.7 2858h27.2v27h-27.2zM1431.7 2887.6h27.2v27h-27.2zM1431.7 2917.2h27.2v27h-27.2zM1431.7 2946.9h27.2v27h-27.2zM1431.7 2976.5h27.2v27h-27.2zM1431.7 3006.1h27.2v27h-27.2zM1431.7 3035.7h27.2v27h-27.2zM1431.7 3065.4h27.2v27h-27.2zM1431.7 3095h27.2v27h-27.2zM1431.7 3124.6h27.2v27h-27.2zM1431.7 3154.3h27.2v27h-27.2zM1431.7 3183.9h27.2v27h-27.2zM1431.7 3213.5h27.2v27h-27.2zM1431.7 3243.1h27.2v27h-27.2zM1431.7 3272.8h27.2v27h-27.2zM1431.7 3302.4h27.2v27h-27.2zM1431.7 3332h27.2v27h-27.2zM1431.7 3361.7h27.2v27h-27.2zM1431.7 3391.3h27.2v27h-27.2zM1431.7 3420.9h27.2v27h-27.2zM1431.7 3450.5h27.2v27h-27.2zM1431.7 3480.2h27.2v27h-27.2zM1431.7 3509.8h27.2v27h-27.2zM1431.7 3539.4h27.2v27h-27.2zM1431.7 3569h27.2v27h-27.2zM1431.7 3598.7h27.2v27h-27.2zM1431.7 3628.3h27.2v27h-27.2zM1431.7 3657.9h27.2v27h-27.2zM1431.7 3687.6h27.2v27h-27.2zM1431.7 3717.2h27.2v27h-27.2zM1431.7 3746.8h27.2v27h-27.2zM1431.7 3776.4h27.2v27h-27.2zM1431.7 3806.1h27.2v27h-27.2zM1431.7 3835.7h27.2v27h-27.2z" fill="#0580c0"/>
<path d="M1556 133.2h25.5v25h-25.5zM1610.2 133.2h25.5v25h-25.5zM1556 162.8h25.5v25h-25.5zM1610.2 162.8h25.5v25h-25.5zM1556 192.5h25.5v25h-25.5zM1610.2 192.5h25.5v25h-25.5zM1556 222.1h25.5v25h-25.5zM1610.2 222.1h25.5v25h-25.5zM1556 251.7h25.5v25h-25.5zM1610.2 251.7h25.5v25h-25.5zM1556 281.3h25.5v25h-25.5zM1610.2 281.3h25.5v25h-25.5zM1556 311h25.5v25h-25.5zM1610.2 311h25.5v25h-25.5zM1556 340.6h25.5v25h-25.5zM1610.2 340.6h25.5v25h-25.5zM1556 370.2h25.5v25h-25.5zM1610.2 370.2h25.5v25h-25.5zM1556 399.9h25.5v25h-25.5zM1610.2 399.9h25.5v25h-25.5zM1556 429.5h25.5v25h-25.5zM1610.2 429.5h25.5v25h-25.5zM1556 459.1h25.5v25h-25.5zM1610.2 459.1h25.5v25h-25.5zM1556 488.7h25.5v25h-25.5zM1610.2 488.7h25.5v25h-25.5zM1556 518.4h25.5v25h-25.5zM1610.2 518.4h25.5v25h-25.5zM1556 548h25.5v25h-25.5zM1610.2 548h25.5v25h-25.5zM1556 577.6h25.5v25h-25.5zM1610.2 577.6h25.5v25h-25.5zM1556 607.2h25.5v25h-25.5zM1610.2 607.2h25.5v25h-25.5zM1556 636.9h25.5v25h-25.5zM1610.2 636.9h25.5v25h-25.5zM1556 666.5h25.5v25h-25.5zM1610.2 666.5h25.5v25h-25.5zM1556 696.1h25.5v25h-25.5zM1610.2 696.1h25.5v25h-25.5zM1556 725.8h25.5v25h-25.5zM1610.2 725.8h25.5v25h-25.5zM1556 755.4h25.5v25h-25.5zM1610.2 755.4h25.5v25h-25.5zM1556 785h25.5v25h-25.5zM1610.2 785h25.5v25h-25.5zM1556 814.6h25.5v25h-25.5zM1610.2 814.6h25.5v25h-25.5zM1556 844.3h25.5v25h-25.5zM1610.2 844.3h25.5v25h-25.5zM1556 873.9h25.5v25h-25.5zM1610.2 873.9h25.5v25h-25.5zM1556 903.5h25.5v25h-25.5zM1610.2 903.5h25.5v25h-25.5zM1556 933.2h25.5v25h-25.5zM1610.2 933.2h25.5v25h-25.5zM1556 962.8h25.5v25h-25.5zM1610.2 962.8h25.5v25h-25.5zM1556 992.4h25.5v25h-25.5zM1610.2 992.4h25.5v25h-25.5zM1556 1022h25.5v25h-25.5zM1610.2 1022h25.5v25h-25.5zM1556 1051.7h25.5v25h-25.5zM1610.2 1051.7h25.5v25h-25.5zM1556 1081.3h25.5v25h-25.5zM1610.2 1081.3h25.5v25h-25.5zM1556 1110.9h25.5v25h-25.5zM1610.2 1110.9h25.5v25h-25.5zM1556 1140.6h25.5v25h-25.5zM1610.2 1140.6h25.5v25h-25.5zM1556 1170.2h25.5v25h-25.5zM1610.2 1170.2h25.5v25h-25.5zM1556 1199.8h25.5v25h-25.5zM1610.2 1199.8h25.5v25h-25.5zM1556 1229.4h25.5v25h-25.5zM1610.2 1229.4h25.5v25h-25.5zM1556 1259.1h25.5v25h-25.5zM1610.2 1259.1h25.5v25h-25.5zM1556 1288.7h25.5v25h-25.5zM1610.2 1288.7h25.5v25h-25.5zM1556 1318.3h25.5v25h-25.5zM1610.2 1318.3h25.5v25h-25.5zM1556 1347.9h25.5v25h-25.5zM1610.2 1347.9h25.5v25h-25.5zM1556 1377.6h25.5v25h-25.5zM1610.2 1377.6h25.5v25h-25.5zM1556 1407.2h25.5v25h-25.5zM1610.2 1407.2h25.5v25h-25.5zM1556 1436.8h25.5v25h-25.5zM1610.2 1436.8h25.5v25h-25.5zM1556 1466.5h25.5v25h-25.5zM1610.2 1466.5h25.5v25h-25.5zM1556 1496.1h25.5v25h-25.5zM1610.2 1496.1h25.5v25h-25.5zM1556 1525.7h25.5v25h-25.5zM1610.2 1525.7h25.5v25h-25.5zM1556 1555.3h25.5v25h-25.5zM1610.2 1555.3h25.5v25h-25.5zM1556 1585h25.5v25h-25.5zM1610.2 1585h25.5v25h-25.5zM1556 1614.6h25.5v25h-25.5zM1610.2 1614.6h25.5v25h-25.5zM1556 1644.2h25.5v25h-25.5zM1610.2 1644.2h25.5v25h-25.5zM1556 1673.9h25.5v25h-25.5zM1610.2 1673.9h25.5v25h-25.5zM1556 1703.5h25.5v25h-25.5zM1610.2 1703.5h25.5v25h-25.5zM1556 1733.1h25.5v25h-25.5zM1610.2 1733.1h25.5v25h-25.5zM1556 1762.7h25.5v25h-25.5zM1610.2 1762.7h25.5v25h-25.5zM1556 1792.4h25.5v25h-25.5zM1610.2 1792.4h25.5v25h-25.5zM1556 1822h25.5v25h-25.5zM1610.2 1822h25.5v25h-25.5zM1556 1851.6h25.5v25h-25.5zM1610.2 1851.6h25.5v25h-25.5zM1556 1881.3h25.5v25h-25.5zM1610.2 1881.3h25.5v25h-25.5zM1556 1910.9h25.5v25h-25.5zM1610.2 1910.9h25.5v25h-25.5zM1556 1940.5h25.5v25h-25.5zM1610.2 1940.5h25.5v25h-25.5zM1556 1970.1h25.5v25h-25.5zM1610.2 1970.1h25.5v25h-25.5zM1556 1999.8h25.5v25h-25.5zM1610.2 1999.8h25.5v25h-25.5zM1556 2029.4h25.5v25h-25.5zM1610.2 2029.4h25.5v25h-25.5zM1556 2059h25.5v25h-25.5zM1610.2 2059h25.5v25h-25.5zM1556 2088.6h25.5v25h-25.5zM1610.2 2088.6h25.5v25h-25.5zM1556 2118.3h25.5v25h-25.5zM1610.2 2118.3h25.5v25h-25.5zM1556 2147.9h25.5v25h-25.5zM1583.1 2147.9h25.5v25h-25.5zM1610.2 2147.9h25.5v25h-25.5zM1637.3 2147.9h25.5v25h-25.5zM1556 2177.5h25.5v25h-25.5zM1583.1 2177.5h25.5v25h-25.5zM1610.2 2177.5h25.5v25h-25.5zM1637.3 2177.5h25.5v25h-25.5zM1556 2207.2h25.5v25h-25.5zM1583.1 2207.2h25.5v25h-25.5zM1610.2 2207.2h25.5v25h-25.5zM1556 2236.8h25.5v25h-25.5zM1583.1 2236.8h25.5v25h-25.5zM1610.2 2236.8h25.5v25h-25.5zM1556 2266.4h25.5v25h-25.5zM1583.1 2266.4h25.5v25h-25.5zM1610.2 2266.4h25.5v25h-25.5zM1556 2296h25.5v25h-25.5zM1583.1 2296h25.5v25h-25.5zM1610.2 2296h25.5v25h-25.5zM1637.3 2296h25.5v25h-25.5zM1556 2325.7h25.5v25h-25.5zM1583.1 2325.7h25.5v25h-25.5zM1610.2 2325.7h25.5v25h-25.5zM1637.3 2325.7h25.5v25h-25.5zM1556 2355.3h25.5v25h-25.5zM1583.1 2355.3h25.5v25h-25.5zM1610.2 2355.3h25.5v25h-25.5zM1637.3 2355.3h25.5v25h-25.5zM1556 2384.9h25.5v25h-25.5zM1583.1 2384.9h25.5v25h-25.5zM1610.2 2384.9h25.5v25h-25.5zM1637.3 2384.9h25.5v25h-25.5zM1556 2414.6h25.5v25h-25.5zM1583.1 2414.6h25.5v25h-25.5zM1610.2 2414.6h25.5v25h-25.5zM1637.3 2414.6h25.5v25h-25.5zM1556 2444.2h25.5v25h-25.5zM1583.1 2444.2h25.5v25h-25.5zM1610.2 2444.2h25.5v25h-25.5zM1637.3 2444.2h25.5v25h-25.5zM1556 2473.8h25.5v25h-25.5zM1583.1 2473.8h25.5v25h-25.5zM1610.2 2473.8h25.5v25h-25.5zM1556 2503.4h25.5v25h-25.5zM1583.1 2503.4h25.5v25h-25.5zM1610.2 2503.4h25.5v25h-25.5zM1637.3 2503.4h25.5v25h-25.5zM1556 2533.1h25.5v25h-25.5zM1583.1 2533.1h25.5v25h-25.5zM1610.2 2533.1h25.5v25h-25.5zM1637.3 2533.1h25.5v25h-25.5zM1556 2562.7h25.5v25h-25.5zM1583.1 2562.7h25.5v25h-25.5zM1610.2 2562.7h25.5v25h-25.5zM1637.3 2562.7h25.5v25h-25.5zM1556 2592.3h25.5v25h-25.5zM1583.1 2592.3h25.5v25h-25.5zM1610.2 2592.3h25.5v25h-25.5zM1637.3 2592.3h25.5v25h-25.5zM1556 2622h25.5v25h-25.5zM1583.1 2622h25.5v25h-25.5zM1610.2 2622h25.5v25h-25.5zM1637.3 2622h25.5v25h-25.5zM1556 2651.6h25.5v25h-25.5zM1583.1 2651.6h25.5v25h-25.5zM1610.2 2651.6h25.5v25h-25.5zM1637.3 2651.6h25.5v25h-25.5zM1556 2681.2h25.5v25h-25.5zM1583.1 2681.2h25.5v25h-25.5zM1610.2 2681.2h25.5v25h-25.5zM1637.3 2681.2h25.5v25h-25.5zM1556 2710.8h25.5v25h-25.5zM1583.1 2710.8h25.5v25h-25.5zM1610.2 2710.8h25.5v25h-25.5zM1637.3 2710.8h25.5v25h-25.5zM1556 2740.5h25.5v25h-25.5zM1583.1 2740.5h25.5v25h-25.5zM1610.2 2740.5h25.5v25h-25.5zM1637.3 2740.5h25.5v25h-25.5zM1556 2770.1h25.5v25h-25.5zM1583.1 2770.1h25.5v25h-25.5zM1610.2 2770.1h25.5v25h-25.5zM1637.3 2770.1h25.5v25h-25.5zM1556 2799.7h25.5v25h-25.5zM1583.1 2799.7h25.5v25h-25.5zM1610.2 2799.7h25.5v25h-25.5zM1637.3 2799.7h25.5v25h-25.5zM1556 2829.3h25.5v25h-25.5zM1583.1 2829.3h25.5v25h-25.5zM1610.2 2829.3h25.5v25h-25.5zM1556 2859h25.5v25h-25.5zM1583.1 2859h25.5v25h-25.5zM1610.2 2859h25.5v25h-25.5zM1556 2888.6h25.5v25h-25.5zM1583.1 2888.6h25.5v25h-25.5zM1610.2 2888.6h25.5v25h-25.5zM1556 2918.2h25.5v25h-25.5zM1583.1 2918.2h25.5v25h-25.5zM1610.2 2918.2h25.5v25h-25.5zM1556 2947.9h25.5v25h-25.5zM1583.1 2947.9h25.5v25h-25.5zM1610.2 2947.9h25.5v25h-25.5zM1556 2977.5h25.5v25h-25.5zM1583.1 2977.5h25.5v25h-25.5zM1610.2 2977.5h25.5v25h-25.5zM1637.3 2977.5h25.5v25h-25.5zM1556 3007.1h25.5v25h-25.5zM1583.1 3007.1h25.5v25h-25.5zM1610.2 3007.1h25.5v25h-25.5zM1637.3 3007.1h25.5v25h-25.5zM1556 3036.7h25.5v25h-25.5zM1583.1 3036.7h25.5v25h-25.5zM1610.2 3036.7h25.5v25h-25.5zM1637.3 3036.7h25.5v25h-25.5zM1556 3066.4h25.5v25h-25.5zM1583.1 3066.4h25.5v25h-25.5zM1610.2 3066.4h25.5v25h-25.5zM1637.3 3066.4h25.5v25h-25.5zM1556 3096h25.5v25h-25.5zM1583.1 3096h25.5v25h-25.5zM1610.2 3096h25.5v25h-25.5zM1637.3 3096h25.5v25h-25.5zM1556 3125.6h25.5v25h-25.5zM1583.1 3125.6h25.5v25h-25.5zM1610.2 3125.6h25.5v25h-25.5zM1637.3 3125.6h25.5v25h-25.5zM1556 3155.3h25.5v25h-25.5zM1583.1 3155.3h25.5v25h-25.5zM1610.2 3155.3h25.5v25h-25.5zM1637.3 3155.3h25.5v25h-25.5zM1556 3184.9h25.5v25h-25.5zM1583.1 3184.9h25.5v25h-25.5zM1610.2 3184.9h25.5v25h-25.5zM1637.3 3184.9h25.5v25h-25.5zM1556 3214.5h25.5v25h-25.5zM1583.1 3214.5h25.5v25h-25.5zM1610.2 3214.5h25.5v25h-25.5zM1637.3 3214.5h25.5v25h-25.5zM1556 3244.1h25.5v25h-25.5zM1583.1 3244.1h25.5v25h-25.5zM1610.2 3244.1h25.5v25h-25.5zM1556 3273.8h25.5v25h-25.5zM1583.1 3273.8h25.5v25h-25.5zM1610.2 3273.8h25.5v25h-25.5zM1556 3303.4h25.5v25h-25.5zM1583.1 3303.4h25.5v25h-25.5zM1610.2 3303.4h25.5v25h-25.5zM1637.3 3303.4h25.5v25h-25.5zM1556 3333h25.5v25h-25.5zM1583.1 3333h25.5v25h-25.5zM1610.2 3333h25.5v25h-25.5zM1637.3 3333h25.5v25h-25.5zM1556 3362.7h25.5v25h-25.5zM1583.1 3362.7h25.5v25h-25.5zM1610.2 3362.7h25.5v25h-25.5zM1637.3 3362.7h25.5v25h-25.5zM1556 3392.3h25.5v25h-25.5zM1583.1 3392.3h25.5v25h-25.5zM1610.2 3392.3h25.5v25h-25.5zM1637.3 3392.3h25.5v25h-25.5zM1556 3421.9h25.5v25h-25.5zM1583.1 3421.9h25.5v25h-25.5zM1610.2 3421.9h25.5v25h-25.5zM1556 3451.5h25.5v25h-25.5zM1583.1 3451.5h25.5v25h-25.5zM1610.2 3451.5h25.5v25h-25.5zM1556 3481.2h25.5v25h-25.5zM1583.1 3481.2h25.5v25h-25.5zM1610.2 3481.2h25.5v25h-25.5zM1556 3510.8h25.5v25h-25.5zM1583.1 3510.8h25.5v25h-25.5zM1610.2 3510.8h25.5v25h-25.5zM1556 3540.4h25.5v25h-25.5zM1583.1 3540.4h25.5v25h-25.5zM1610.2 3540.4h25.5v25h-25.5zM1637.3 3540.4h25.5v25h-25.5zM1556 3570h25.5v25h-25.5zM1583.1 3570h25.5v25h-25.5zM1610.2 3570h25.5v25h-25.5zM1637.3 3570h25.5v25h-25.5zM1556 3599.7h25.5v25h-25.5zM1583.1 3599.7h25.5v25h-25.5zM1610.2 3599.7h25.5v25h-25.5zM1637.3 3599.7h25.5v25h-25.5zM1556 3629.3h25.5v25h-25.5zM1583.1 3629.3h25.5v25h-25.5zM1610.2 3629.3h25.5v25h-25.5zM1637.3 3629.3h25.5v25h-25.5zM1556 3658.9h25.5v25h-25.5zM1583.1 3658.9h25.5v25h-25.5zM1610.2 3658.9h25.5v25h-25.5zM1637.3 3658.9h25.5v25h-25.5zM1556 3688.6h25.5v25h-25.5zM1583.1 3688.6h25.5v25h-25.5zM1610.2 3688.6h25.5v25h-25.5zM1637.3 3688.6h25.5v25h-25.5zM1556 3718.2h25.5v25h-25.5zM1583.1 3718.2h25.5v25h-25.5zM1610.2 3718.2h25.5v25h-25.5zM1637.3 3718.2h25.5v25h-25.5zM1556 3747.8h25.5v25h-25.5zM1583.1 3747.8h25.5v25h-25.5zM1610.2 3747.8h25.5v25h-25.5zM1637.3 3747.8h25.5v25h-25.5zM1556 3777.4h25.5v25h-25.5zM1583.1 3777.4h25.5v25h-25.5zM1610.2 3777.4h25.5v25h-25.5zM1637.3 3777.4h25.5v25h-25.5zM1556 3807.1h25.5v25h-25.5zM1583.1 3807.1h25.5v25h-25.5zM1610.2 3807.1h25.5v25h-25.5zM1637.3 3807.1h25.5v25h-25.5zM1556 3836.7h25.5v25h-25.5zM1583.1 3836.7h25.5v25h-25.5zM1610.2 3836.7h25.5v25h-25.5zM1637.3 3836.7h25.5v25h-25.5z" fill="#0568b0"/>
<path d="M1584 134.1h23.7v23.2h-23.7zM1638.2 134.1h23.7v23.2h-23.7zM1584 163.7h23.7v23.2h-23.7zM1638.2 163.7h23.7v23.2h-23.7zM1584 193.4h23.7v23.2h-23.7zM1638.2 193.4h23.7v23.2h-23.7zM1584 223h23.7v23.2h-23.7zM1638.2 223h23.7v23.2h-23.7zM1584 252.6h23.7v23.2h-23.7zM1638.2 252.6h23.7v23.2h-23.7zM1584 282.2h23.7v23.2h-23.7zM1638.2 282.2h23.7v23.2h-23.7zM1584 311.9h23.7v23.2h-23.7zM1638.2 311.9h23.7v23.2h-23.7zM1584 341.5h23.7v23.2h-23.7zM1638.2 341.5h23.7v23.2h-23.7zM1584 371.1h23.7v23.2h-23.7zM1638.2 371.1h23.7v23.2h-23.7zM1584 400.8h23.7v23.2h-23.7zM1638.2 400.8h23.7v23.2h-23.7zM1584 430.4h23.7v23.2h-23.7zM1638.2 430.4h23.7v23.2h-23.7zM1584 460h23.7v23.2h-23.7zM1638.2 460h23.7v23.2h-23.7zM1584 489.6h23.7v23.2h-23.7zM1638.2 489.6h23.7v23.2h-23.7zM1584 519.3h23.7v23.2h-23.7zM1638.2 519.3h23.7v23.2h-23.7zM1584 548.9h23.7v23.2h-23.7zM1638.2 548.9h23.7v23.2h-23.7zM1584 578.5h23.7v23.2h-23.7zM1638.2 578.5h23.7v23.2h-23.7zM1584 608.1h23.7v23.2h-23.7zM1638.2 608.1h23.7v23.2h-23.7zM1584 637.8h23.7v23.2h-23.7zM1638.2 637.8h23.7v23.2h-23.7zM1584 667.4h23.7v23.2h-23.7zM1638.2 667.4h23.7v23.2h-23.7zM1584 697h23.7v23.2h-23.7zM1638.2 697h23.7v23.2h-23.7zM1584 726.7h23.7v23.2h-23.7zM1638.2 726.7h23.7v23.2h-23.7zM1584 756.3h23.7v23.2h-23.7zM1638.2 756.3h23.7v23.2h-23.7zM1584 785.9h23.7v23.2h-23.7zM1638.2 785.9h23.7v23.2h-23.7zM1584 815.5h23.7v23.2h-23.7zM1638.2 815.5h23.7v23.2h-23.7zM1584 845.2h23.7v23.2h-23.7zM1638.2 845.2h23.7v23.2h-23.7zM1584 874.8h23.7v23.2h-23.7zM1638.2 874.8h23.7v23.2h-23.7zM1584 904.4h23.7v23.2h-23.7zM1638.2 904.4h23.7v23.2h-23.7zM1584 934.1h23.7v23.2h-23.7zM1638.2 934.1h23.7v23.2h-23.7zM1584 963.7h23.7v23.2h-23.7zM1638.2 963.7h23.7v23.2h-23.7zM1584 993.3h23.7v23.2h-23.7zM1638.2 993.3h23.7v23.2h-23.7zM1584 1022.9h23.7v23.2h-23.7zM1638.2 1022.9h23.7v23.2h-23.7zM1584 1052.6h23.7v23.2h-23.7zM1638.2 1052.6h23.7v23.2h-23.7zM1584 1082.2h23.7v23.2h-23.7zM1638.2 1082.2h23.7v23.2h-23.7zM1584 1111.8h23.7v23.2h-23.7zM1638.2 1111.8h23.7v23.2h-23.7zM1584 1141.5h23.7v23.2h-23.7zM1638.2 1141.5h23.7v23.2h-23.7zM1584 1171.1h23.7v23.2h-23.7zM1638.2 1171.1h23.7v23.2h-23.7zM1584 1200.7h23.7v23.2h-23.7zM1638.2 1200.7h23.7v23.2h-23.7zM1584 1230.3h23.7v23.2h-23.7zM1638.2 1230.3h23.7v23.2h-23.7zM1584 1260h23.7v23.2h-23.7zM1638.2 1260h23.7v23.2h-23.7zM1584 1289.6h23.7v23.2h-23.7zM1638.2 1289.6h23.7v23.2h-23.7zM1584 1319.2h23.7v23.2h-23.7zM1638.2 1319.2h23.7v23.2h-23.7zM1584 1348.8h23.7v23.2h-23.7zM1638.2 1348.8h23.7v23.2h-23.7zM1584 1378.5h23.7v23.2h-23.7zM1638.2 1378.5h23.7v23.2h-23.7zM1584 1408.1h23.7v23.2h-23.7zM1638.2 1408.1h23.7v23.2h-23.7zM1584 1437.7h23.7v23.2h-23.7zM1638.2 1437.7h23.7v23.2h-23.7zM1584 1467.4h23.7v23.2h-23.7zM1638.2 1467.4h23.7v23.2h-23.7zM1584 1497h23.7v23.2h-23.7zM1638.2 1497h23.7v23.2h-23.7zM1584 1526.6h23.7v23.2h-23.7zM1638.2 1526.6h23.7v23.2h-23.7zM1584 1556.2h23.7v23.2h-23.7zM1638.2 1556.2h23.7v23.2h-23.7zM1584 1585.9h23.7v23.2h-23.7zM1638.2 1585.9h23.7v23.2h-23.7zM1584 1615.5h23.7v23.2h-23.7zM1638.2 1615.5h23.7v23.2h-23.7zM1584 1645.1h23.7v23.2h-23.7zM1638.2 1645.1h23.7v23.2h-23.7zM1584 1674.8h23.7v23.2h-23.7zM1638.2 1674.8h23.7v23.2h-23.7zM1584 1704.4h23.7v23.2h-23.7zM1638.2 1704.4h23.7v23.2h-23.7zM1584 1734h23.7v23.2h-23.7zM1638.2 1734h23.7v23.2h-23.7zM1584 1763.6h23.7v23.2h-23.7zM1638.2 1763.6h23.7v23.2h-23.7zM1584 1793.3h23.7v23.2h-23.7zM1638.2 1793.3h23.7v23.2h-23.7zM1584 1822.9h23.7v23.2h-23.7zM1638.2 1822.9h23.7v23.2h-23.7zM1584 1852.5h23.7v23.2h-23.7zM1638.2 1852.5h23.7v23.2h-23.7zM1584 1882.2h23.7v23.2h-23.7zM1638.2 1882.2h23.7v23.2h-23.7zM1584 1911.8h23.7v23.2h-23.7zM1638.2 1911.8h23.7v23.2h-23.7zM1584 1941.4h23.7v23.2h-23.7zM1638.2 1941.4h23.7v23.2h-23.7zM1584 1971h23.7v23.2h-23.7zM1638.2 1971h23.7v23.2h-23.7zM1584 2000.7h23.7v23.2h-23.7zM1638.2 2000.7h23.7v23.2h-23.7zM1584 2030.3h23.7v23.2h-23.7zM1638.2 2030.3h23.7v23.2h-23.7zM1584 2059.9h23.7v23.2h-23.7zM1638.2 2059.9h23.7v23.2h-23.7zM1584 2089.5h23.7v23.2h-23.7zM1638.2 2089.5h23.7v23.2h-23.7zM1584 2119.2h23.7v23.2h-23.7zM1638.2 2119.2h23.7v23.2h-23.7zM1638.2 2208.1h23.7v23.2h-23.7zM1638.2 2237.7h23.7v23.2h-23.7zM1638.2 2267.3h23.7v23.2h-23.7zM1638.2 2474.7h23.7v23.2h-23.7zM1638.2 2830.2h23.7v23.2h-23.7zM1638.2 2859.9h23.7v23.2h-23.7zM1638.2 2889.5h23.7v23.2h-23.7zM1638.2 2919.1h23.7v23.2h-23.7zM1638.2 2948.8h23.7v23.2h-23.7zM1638.2 3245h23.7v23.2h-23.7zM1638.2 3274.7h23.7v23.2h-23.7zM1638.2 3422.8h23.7v23.2h-23.7zM1638.2 3452.4h23.7v23.2h-23.7zM1638.2 3482.1h23.7v23.2h-23.7zM1638.2 3511.7h23.7v23.2h-23.7z" fill="#fff" stroke="#8fbfde" stroke-width="1.8"/>
<path d="M1664.4 133.2h25.5v25h-25.5zM1691.5 133.2h25.5v25h-25.5zM1718.5 133.2h25.5v25h-25.5zM1745.6 133.2h25.5v25h-25.5zM1772.7 133.2h25.5v25h-25.5zM1664.4 162.8h25.5v25h-25.5zM1691.5 162.8h25.5v25h-25.5zM1718.5 162.8h25.5v25h-25.5zM1745.6 162.8h25.5v25h-25.5zM1772.7 162.8h25.5v25h-25.5zM1664.4 192.5h25.5v25h-25.5zM1745.6 192.5h25.5v25h-25.5zM1772.7 192.5h25.5v25h-25.5zM1664.4 222.1h25.5v25h-25.5zM1745.6 222.1h25.5v25h-25.5zM1772.7 222.1h25.5v25h-25.5zM1664.4 251.7h25.5v25h-25.5zM1745.6 251.7h25.5v25h-25.5zM1772.7 251.7h25.5v25h-25.5zM1664.4 281.3h25.5v25h-25.5zM1745.6 281.3h25.5v25h-25.5zM1772.7 281.3h25.5v25h-25.5zM1664.4 311h25.5v25h-25.5zM1691.5 311h25.5v25h-25.5zM1745.6 311h25.5v25h-25.5zM1772.7 311h25.5v25h-25.5zM1664.4 340.6h25.5v25h-25.5zM1691.5 340.6h25.5v25h-25.5zM1745.6 340.6h25.5v25h-25.5zM1772.7 340.6h25.5v25h-25.5zM1664.4 370.2h25.5v25h-25.5zM1691.5 370.2h25.5v25h-25.5zM1745.6 370.2h25.5v25h-25.5zM1772.7 370.2h25.5v25h-25.5zM1664.4 399.9h25.5v25h-25.5zM1691.5 399.9h25.5v25h-25.5zM1745.6 399.9h25.5v25h-25.5zM1772.7 399.9h25.5v25h-25.5zM1664.4 429.5h25.5v25h-25.5zM1691.5 429.5h25.5v25h-25.5zM1745.6 429.5h25.5v25h-25.5zM1772.7 429.5h25.5v25h-25.5zM1664.4 459.1h25.5v25h-25.5zM1691.5 459.1h25.5v25h-25.5zM1745.6 459.1h25.5v25h-25.5zM1772.7 459.1h25.5v25h-25.5zM1664.4 488.7h25.5v25h-25.5zM1691.5 488.7h25.5v25h-25.5zM1745.6 488.7h25.5v25h-25.5zM1772.7 488.7h25.5v25h-25.5zM1664.4 518.4h25.5v25h-25.5zM1745.6 518.4h25.5v25h-25.5zM1772.7 518.4h25.5v25h-25.5zM1664.4 548h25.5v25h-25.5zM1745.6 548h25.5v25h-25.5zM1772.7 548h25.5v25h-25.5zM1664.4 577.6h25.5v25h-25.5zM1745.6 577.6h25.5v25h-25.5zM1772.7 577.6h25.5v25h-25.5zM1664.4 607.2h25.5v25h-25.5zM1691.5 607.2h25.5v25h-25.5zM1745.6 607.2h25.5v25h-25.5zM1772.7 607.2h25.5v25h-25.5zM1664.4 636.9h25.5v25h-25.5zM1691.5 636.9h25.5v25h-25.5zM1745.6 636.9h25.5v25h-25.5zM1772.7 636.9h25.5v25h-25.5zM1664.4 666.5h25.5v25h-25.5zM1691.5 666.5h25.5v25h-25.5zM1745.6 666.5h25.5v25h-25.5zM1772.7 666.5h25.5v25h-25.5zM1799.8 666.5h25.5v25h-25.5zM1664.4 696.1h25.5v25h-25.5zM1745.6 696.1h25.5v25h-25.5zM1772.7 696.1h25.5v25h-25.5zM1664.4 725.8h25.5v25h-25.5zM1745.6 725.8h25.5v25h-25.5zM1772.7 725.8h25.5v25h-25.5zM1664.4 755.4h25.5v25h-25.5zM1745.6 755.4h25.5v25h-25.5zM1772.7 755.4h25.5v25h-25.5zM1664.4 785h25.5v25h-25.5zM1745.6 785h25.5v25h-25.5zM1772.7 785h25.5v25h-25.5zM1664.4 814.6h25.5v25h-25.5zM1745.6 814.6h25.5v25h-25.5zM1772.7 814.6h25.5v25h-25.5zM1664.4 844.3h25.5v25h-25.5zM1745.6 844.3h25.5v25h-25.5zM1772.7 844.3h25.5v25h-25.5zM1664.4 873.9h25.5v25h-25.5zM1745.6 873.9h25.5v25h-25.5zM1772.7 873.9h25.5v25h-25.5zM1664.4 903.5h25.5v25h-25.5zM1745.6 903.5h25.5v25h-25.5zM1772.7 903.5h25.5v25h-25.5zM1664.4 933.2h25.5v25h-25.5zM1745.6 933.2h25.5v25h-25.5zM1772.7 933.2h25.5v25h-25.5zM1664.4 962.8h25.5v25h-25.5zM1745.6 962.8h25.5v25h-25.5zM1772.7 962.8h25.5v25h-25.5zM1664.4 992.4h25.5v25h-25.5zM1691.5 992.4h25.5v25h-25.5zM1745.6 992.4h25.5v25h-25.5zM1772.7 992.4h25.5v25h-25.5zM1664.4 1022h25.5v25h-25.5zM1691.5 1022h25.5v25h-25.5zM1745.6 1022h25.5v25h-25.5zM1772.7 1022h25.5v25h-25.5zM1799.8 1022h25.5v25h-25.5zM1745.6 1051.7h25.5v25h-25.5zM1772.7 1051.7h25.5v25h-25.5zM1799.8 1051.7h25.5v25h-25.5zM1664.4 1081.3h25.5v25h-25.5zM1745.6 1081.3h25.5v25h-25.5zM1772.7 1081.3h25.5v25h-25.5zM1799.8 1081.3h25.5v25h-25.5zM1664.4 1110.9h25.5v25h-25.5zM1745.6 1110.9h25.5v25h-25.5zM1772.7 1110.9h25.5v25h-25.5zM1799.8 1110.9h25.5v25h-25.5zM1664.4 1140.6h25.5v25h-25.5zM1745.6 1140.6h25.5v25h-25.5zM1772.7 1140.6h25.5v25h-25.5zM1799.8 1140.6h25.5v25h-25.5zM1664.4 1170.2h25.5v25h-25.5zM1745.6 1170.2h25.5v25h-25.5zM1772.7 1170.2h25.5v25h-25.5zM1799.8 1170.2h25.5v25h-25.5zM1664.4 1199.8h25.5v25h-25.5zM1745.6 1199.8h25.5v25h-25.5zM1772.7 1199.8h25.5v25h-25.5zM1664.4 1229.4h25.5v25h-25.5zM1745.6 1229.4h25.5v25h-25.5zM1772.7 1229.4h25.5v25h-25.5zM1664.4 1259.1h25.5v25h-25.5zM1745.6 1259.1h25.5v25h-25.5zM1772.7 1259.1h25.5v25h-25.5zM1664.4 1288.7h25.5v25h-25.5zM1745.6 1288.7h25.5v25h-25.5zM1772.7 1288.7h25.5v25h-25.5zM1664.4 1318.3h25.5v25h-25.5zM1745.6 1318.3h25.5v25h-25.5zM1772.7 1318.3h25.5v25h-25.5zM1664.4 1347.9h25.5v25h-25.5zM1745.6 1347.9h25.5v25h-25.5zM1772.7 1347.9h25.5v25h-25.5zM1664.4 1377.6h25.5v25h-25.5zM1745.6 1377.6h25.5v25h-25.5zM1772.7 1377.6h25.5v25h-25.5zM1664.4 1407.2h25.5v25h-25.5zM1745.6 1407.2h25.5v25h-25.5zM1772.7 1407.2h25.5v25h-25.5zM1664.4 1436.8h25.5v25h-25.5zM1745.6 1436.8h25.5v25h-25.5zM1772.7 1436.8h25.5v25h-25.5zM1664.4 1466.5h25.5v25h-25.5zM1745.6 1466.5h25.5v25h-25.5zM1772.7 1466.5h25.5v25h-25.5zM1664.4 1496.1h25.5v25h-25.5zM1745.6 1496.1h25.5v25h-25.5zM1772.7 1496.1h25.5v25h-25.5zM1664.4 1525.7h25.5v25h-25.5zM1745.6 1525.7h25.5v25h-25.5zM1772.7 1525.7h25.5v25h-25.5zM1664.4 1555.3h25.5v25h-25.5zM1745.6 1555.3h25.5v25h-25.5zM1772.7 1555.3h25.5v25h-25.5zM1664.4 1585h25.5v25h-25.5zM1745.6 1585h25.5v25h-25.5zM1772.7 1585h25.5v25h-25.5zM1664.4 1614.6h25.5v25h-25.5zM1745.6 1614.6h25.5v25h-25.5zM1772.7 1614.6h25.5v25h-25.5zM1664.4 1644.2h25.5v25h-25.5zM1745.6 1644.2h25.5v25h-25.5zM1772.7 1644.2h25.5v25h-25.5zM1664.4 1673.9h25.5v25h-25.5zM1745.6 1673.9h25.5v25h-25.5zM1772.7 1673.9h25.5v25h-25.5zM1664.4 1703.5h25.5v25h-25.5zM1745.6 1703.5h25.5v25h-25.5zM1772.7 1703.5h25.5v25h-25.5zM1664.4 1733.1h25.5v25h-25.5zM1745.6 1733.1h25.5v25h-25.5zM1772.7 1733.1h25.5v25h-25.5zM1799.8 1733.1h25.5v25h-25.5zM1664.4 1762.7h25.5v25h-25.5zM1745.6 1762.7h25.5v25h-25.5zM1772.7 1762.7h25.5v25h-25.5zM1799.8 1762.7h25.5v25h-25.5zM1664.4 1792.4h25.5v25h-25.5zM1745.6 1792.4h25.5v25h-25.5zM1772.7 1792.4h25.5v25h-25.5zM1799.8 1792.4h25.5v25h-25.5zM1664.4 1822h25.5v25h-25.5zM1745.6 1822h25.5v25h-25.5zM1772.7 1822h25.5v25h-25.5zM1799.8 1822h25.5v25h-25.5zM1664.4 1851.6h25.5v25h-25.5zM1745.6 1851.6h25.5v25h-25.5zM1772.7 1851.6h25.5v25h-25.5zM1799.8 1851.6h25.5v25h-25.5zM1664.4 1881.3h25.5v25h-25.5zM1745.6 1881.3h25.5v25h-25.5zM1772.7 1881.3h25.5v25h-25.5zM1799.8 1881.3h25.5v25h-25.5zM1664.4 1910.9h25.5v25h-25.5zM1745.6 1910.9h25.5v25h-25.5zM1772.7 1910.9h25.5v25h-25.5zM1664.4 1940.5h25.5v25h-25.5zM1745.6 1940.5h25.5v25h-25.5zM1772.7 1940.5h25.5v25h-25.5zM1664.4 1970.1h25.5v25h-25.5zM1745.6 1970.1h25.5v25h-25.5zM1772.7 1970.1h25.5v25h-25.5zM1664.4 1999.8h25.5v25h-25.5zM1745.6 1999.8h25.5v25h-25.5zM1772.7 1999.8h25.5v25h-25.5zM1664.4 2029.4h25.5v25h-25.5zM1745.6 2029.4h25.5v25h-25.5zM1772.7 2029.4h25.5v25h-25.5zM1664.4 2059h25.5v25h-25.5zM1745.6 2059h25.5v25h-25.5zM1772.7 2059h25.5v25h-25.5zM1664.4 2088.6h25.5v25h-25.5zM1745.6 2088.6h25.5v25h-25.5zM1772.7 2088.6h25.5v25h-25.5zM1664.4 2118.3h25.5v25h-25.5zM1691.5 2118.3h25.5v25h-25.5zM1718.5 2118.3h25.5v25h-25.5zM1745.6 2118.3h25.5v25h-25.5zM1772.7 2118.3h25.5v25h-25.5zM1799.8 2118.3h25.5v25h-25.5zM1664.4 2147.9h25.5v25h-25.5zM1691.5 2147.9h25.5v25h-25.5zM1718.5 2147.9h25.5v25h-25.5zM1745.6 2147.9h25.5v25h-25.5zM1772.7 2147.9h25.5v25h-25.5zM1799.8 2147.9h25.5v25h-25.5zM1664.4 2177.5h25.5v25h-25.5zM1718.5 2177.5h25.5v25h-25.5zM1745.6 2177.5h25.5v25h-25.5zM1772.7 2177.5h25.5v25h-25.5zM1799.8 2177.5h25.5v25h-25.5zM1664.4 2207.2h25.5v25h-25.5zM1691.5 2207.2h25.5v25h-25.5zM1718.5 2207.2h25.5v25h-25.5zM1745.6 2207.2h25.5v25h-25.5zM1772.7 2207.2h25.5v25h-25.5zM1799.8 2207.2h25.5v25h-25.5zM1664.4 2236.8h25.5v25h-25.5zM1691.5 2236.8h25.5v25h-25.5zM1718.5 2236.8h25.5v25h-25.5zM1745.6 2236.8h25.5v25h-25.5zM1772.7 2236.8h25.5v25h-25.5zM1799.8 2236.8h25.5v25h-25.5zM1664.4 2266.4h25.5v25h-25.5zM1691.5 2266.4h25.5v25h-25.5zM1718.5 2266.4h25.5v25h-25.5zM1745.6 2266.4h25.5v25h-25.5zM1772.7 2266.4h25.5v25h-25.5zM1799.8 2266.4h25.5v25h-25.5zM1664.4 2296h25.5v25h-25.5zM1691.5 2296h25.5v25h-25.5zM1718.5 2296h25.5v25h-25.5zM1745.6 2296h25.5v25h-25.5zM1772.7 2296h25.5v25h-25.5zM1799.8 2296h25.5v25h-25.5zM1664.4 2325.7h25.5v25h-25.5zM1691.5 2325.7h25.5v25h-25.5zM1718.5 2325.7h25.5v25h-25.5zM1745.6 2325.7h25.5v25h-25.5zM1772.7 2325.7h25.5v25h-25.5zM1799.8 2325.7h25.5v25h-25.5zM1664.4 2355.3h25.5v25h-25.5zM1691.5 2355.3h25.5v25h-25.5zM1718.5 2355.3h25.5v25h-25.5zM1745.6 2355.3h25.5v25h-25.5zM1772.7 2355.3h25.5v25h-25.5zM1664.4 2384.9h25.5v25h-25.5zM1691.5 2384.9h25.5v25h-25.5zM1718.5 2384.9h25.5v25h-25.5zM1745.6 2384.9h25.5v25h-25.5zM1772.7 2384.9h25.5v25h-25.5zM1799.8 2384.9h25.5v25h-25.5zM1664.4 2414.6h25.5v25h-25.5zM1718.5 2414.6h25.5v25h-25.5zM1745.6 2414.6h25.5v25h-25.5zM1772.7 2414.6h25.5v25h-25.5zM1799.8 2414.6h25.5v25h-25.5zM1664.4 2444.2h25.5v25h-25.5zM1691.5 2444.2h25.5v25h-25.5zM1718.5 2444.2h25.5v25h-25.5zM1745.6 2444.2h25.5v25h-25.5zM1772.7 2444.2h25.5v25h-25.5zM1799.8 2444.2h25.5v25h-25.5zM1664.4 2473.8h25.5v25h-25.5zM1691.5 2473.8h25.5v25h-25.5zM1718.5 2473.8h25.5v25h-25.5zM1745.6 2473.8h25.5v25h-25.5zM1772.7 2473.8h25.5v25h-25.5zM1799.8 2473.8h25.5v25h-25.5zM1826.9 2473.8h25.5v25h-25.5zM1854 2473.8h25.5v25h-25.5zM1664.4 2503.4h25.5v25h-25.5zM1691.5 2503.4h25.5v25h-25.5zM1718.5 2503.4h25.5v25h-25.5zM1745.6 2503.4h25.5v25h-25.5zM1772.7 2503.4h25.5v25h-25.5zM1799.8 2503.4h25.5v25h-25.5zM1826.9 2503.4h25.5v25h-25.5zM1854 2503.4h25.5v25h-25.5zM1664.4 2533.1h25.5v25h-25.5zM1718.5 2533.1h25.5v25h-25.5zM1745.6 2533.1h25.5v25h-25.5zM1772.7 2533.1h25.5v25h-25.5zM1799.8 2533.1h25.5v25h-25.5zM1664.4 2562.7h25.5v25h-25.5zM1691.5 2562.7h25.5v25h-25.5zM1718.5 2562.7h25.5v25h-25.5zM1745.6 2562.7h25.5v25h-25.5zM1772.7 2562.7h25.5v25h-25.5zM1799.8 2562.7h25.5v25h-25.5zM1664.4 2592.3h25.5v25h-25.5zM1691.5 2592.3h25.5v25h-25.5zM1718.5 2592.3h25.5v25h-25.5zM1745.6 2592.3h25.5v25h-25.5zM1772.7 2592.3h25.5v25h-25.5zM1799.8 2592.3h25.5v25h-25.5zM1664.4 2622h25.5v25h-25.5zM1691.5 2622h25.5v25h-25.5zM1718.5 2622h25.5v25h-25.5zM1745.6 2622h25.5v25h-25.5zM1772.7 2622h25.5v25h-25.5zM1799.8 2622h25.5v25h-25.5zM1664.4 2651.6h25.5v25h-25.5zM1691.5 2651.6h25.5v25h-25.5zM1718.5 2651.6h25.5v25h-25.5zM1745.6 2651.6h25.5v25h-25.5zM1772.7 2651.6h25.5v25h-25.5zM1799.8 2651.6h25.5v25h-25.5zM1664.4 2681.2h25.5v25h-25.5zM1691.5 2681.2h25.5v25h-25.5zM1718.5 2681.2h25.5v25h-25.5zM1745.6 2681.2h25.5v25h-25.5zM1772.7 2681.2h25.5v25h-25.5zM1799.8 2681.2h25.5v25h-25.5zM1664.4 2710.8h25.5v25h-25.5zM1691.5 2710.8h25.5v25h-25.5zM1718.5 2710.8h25.5v25h-25.5zM1745.6 2710.8h25.5v25h-25.5zM1772.7 2710.8h25.5v25h-25.5zM1799.8 2710.8h25.5v25h-25.5zM1664.4 2740.5h25.5v25h-25.5zM1691.5 2740.5h25.5v25h-25.5zM1718.5 2740.5h25.5v25h-25.5zM1745.6 2740.5h25.5v25h-25.5zM1772.7 2740.5h25.5v25h-25.5zM1799.8 2740.5h25.5v25h-25.5zM1664.4 2770.1h25.5v25h-25.5zM1691.5 2770.1h25.5v25h-25.5zM1718.5 2770.1h25.5v25h-25.5zM1745.6 2770.1h25.5v25h-25.5zM1772.7 2770.1h25.5v25h-25.5zM1799.8 2770.1h25.5v25h-25.5zM1664.4 2799.7h25.5v25h-25.5zM1691.5 2799.7h25.5v25h-25.5zM1718.5 2799.7h25.5v25h-25.5zM1745.6 2799.7h25.5v25h-25.5zM1772.7 2799.7h25.5v25h-25.5zM1799.8 2799.7h25.5v25h-25.5zM1664.4 2829.3h25.5v25h-25.5zM1718.5 2829.3h25.5v25h-25.5zM1745.6 2829.3h25.5v25h-25.5zM1772.7 2829.3h25.5v25h-25.5zM1799.8 2829.3h25.5v25h-25.5zM1664.4 2859h25.5v25h-25.5zM1691.5 2859h25.5v25h-25.5zM1718.5 2859h25.5v25h-25.5zM1745.6 2859h25.5v25h-25.5zM1772.7 2859h25.5v25h-25.5zM1799.8 2859h25.5v25h-25.5zM1664.4 2888.6h25.5v25h-25.5zM1691.5 2888.6h25.5v25h-25.5zM1718.5 2888.6h25.5v25h-25.5zM1745.6 2888.6h25.5v25h-25.5zM1772.7 2888.6h25.5v25h-25.5zM1799.8 2888.6h25.5v25h-25.5zM1664.4 2918.2h25.5v25h-25.5zM1691.5 2918.2h25.5v25h-25.5zM1718.5 2918.2h25.5v25h-25.5zM1745.6 2918.2h25.5v25h-25.5zM1772.7 2918.2h25.5v25h-25.5zM1799.8 2918.2h25.5v25h-25.5zM1664.4 2947.9h25.5v25h-25.5zM1691.5 2947.9h25.5v25h-25.5zM1718.5 2947.9h25.5v25h-25.5zM1745.6 2947.9h25.5v25h-25.5zM1772.7 2947.9h25.5v25h-25.5zM1799.8 2947.9h25.5v25h-25.5zM1664.4 2977.5h25.5v25h-25.5zM1691.5 2977.5h25.5v25h-25.5zM1718.5 2977.5h25.5v25h-25.5zM1745.6 2977.5h25.5v25h-25.5zM1772.7 2977.5h25.5v25h-25.5zM1799.8 2977.5h25.5v25h-25.5zM1664.4 3007.1h25.5v25h-25.5zM1691.5 3007.1h25.5v25h-25.5zM1718.5 3007.1h25.5v25h-25.5zM1745.6 3007.1h25.5v25h-25.5zM1772.7 3007.1h25.5v25h-25.5zM1799.8 3007.1h25.5v25h-25.5zM1664.4 3036.7h25.5v25h-25.5zM1718.5 3036.7h25.5v25h-25.5zM1745.6 3036.7h25.5v25h-25.5zM1772.7 3036.7h25.5v25h-25.5zM1799.8 3036.7h25.5v25h-25.5zM1664.4 3066.4h25.5v25h-25.5zM1718.5 3066.4h25.5v25h-25.5zM1745.6 3066.4h25.5v25h-25.5zM1772.7 3066.4h25.5v25h-25.5zM1799.8 3066.4h25.5v25h-25.5zM1664.4 3096h25.5v25h-25.5zM1718.5 3096h25.5v25h-25.5zM1745.6 3096h25.5v25h-25.5zM1772.7 3096h25.5v25h-25.5zM1799.8 3096h25.5v25h-25.5zM1664.4 3125.6h25.5v25h-25.5zM1718.5 3125.6h25.5v25h-25.5zM1745.6 3125.6h25.5v25h-25.5zM1772.7 3125.6h25.5v25h-25.5zM1799.8 3125.6h25.5v25h-25.5zM1664.4 3155.3h25.5v25h-25.5zM1691.5 3155.3h25.5v25h-25.5zM1718.5 3155.3h25.5v25h-25.5zM1745.6 3155.3h25.5v25h-25.5zM1772.7 3155.3h25.5v25h-25.5zM1799.8 3155.3h25.5v25h-25.5zM1664.4 3184.9h25.5v25h-25.5zM1718.5 3184.9h25.5v25h-25.5zM1745.6 3184.9h25.5v25h-25.5zM1772.7 3184.9h25.5v25h-25.5zM1799.8 3184.9h25.5v25h-25.5zM1664.4 3214.5h25.5v25h-25.5zM1718.5 3214.5h25.5v25h-25.5zM1745.6 3214.5h25.5v25h-25.5zM1772.7 3214.5h25.5v25h-25.5zM1799.8 3214.5h25.5v25h-25.5zM1664.4 3244.1h25.5v25h-25.5zM1718.5 3244.1h25.5v25h-25.5zM1745.6 3244.1h25.5v25h-25.5zM1772.7 3244.1h25.5v25h-25.5zM1799.8 3244.1h25.5v25h-25.5zM1664.4 3273.8h25.5v25h-25.5zM1718.5 3273.8h25.5v25h-25.5zM1745.6 3273.8h25.5v25h-25.5zM1772.7 3273.8h25.5v25h-25.5zM1799.8 3273.8h25.5v25h-25.5zM1664.4 3303.4h25.5v25h-25.5zM1691.5 3303.4h25.5v25h-25.5zM1718.5 3303.4h25.5v25h-25.5zM1745.6 3303.4h25.5v25h-25.5zM1772.7 3303.4h25.5v25h-25.5zM1799.8 3303.4h25.5v25h-25.5zM1664.4 3333h25.5v25h-25.5zM1691.5 3333h25.5v25h-25.5zM1718.5 3333h25.5v25h-25.5zM1745.6 3333h25.5v25h-25.5zM1772.7 3333h25.5v25h-25.5zM1799.8 3333h25.5v25h-25.5zM1664.4 3362.7h25.5v25h-25.5zM1691.5 3362.7h25.5v25h-25.5zM1718.5 3362.7h25.5v25h-25.5zM1745.6 3362.7h25.5v25h-25.5zM1772.7 3362.7h25.5v25h-25.5zM1799.8 3362.7h25.5v25h-25.5zM1664.4 3392.3h25.5v25h-25.5zM1691.5 3392.3h25.5v25h-25.5zM1718.5 3392.3h25.5v25h-25.5zM1745.6 3392.3h25.5v25h-25.5zM1772.7 3392.3h25.5v25h-25.5zM1799.8 3392.3h25.5v25h-25.5zM1664.4 3421.9h25.5v25h-25.5zM1718.5 3421.9h25.5v25h-25.5zM1745.6 3421.9h25.5v25h-25.5zM1772.7 3421.9h25.5v25h-25.5zM1799.8 3421.9h25.5v25h-25.5zM1664.4 3451.5h25.5v25h-25.5zM1718.5 3451.5h25.5v25h-25.5zM1745.6 3451.5h25.5v25h-25.5zM1772.7 3451.5h25.5v25h-25.5zM1799.8 3451.5h25.5v25h-25.5zM1664.4 3481.2h25.5v25h-25.5zM1718.5 3481.2h25.5v25h-25.5zM1745.6 3481.2h25.5v25h-25.5zM1772.7 3481.2h25.5v25h-25.5zM1799.8 3481.2h25.5v25h-25.5zM1664.4 3510.8h25.5v25h-25.5zM1718.5 3510.8h25.5v25h-25.5zM1745.6 3510.8h25.5v25h-25.5zM1772.7 3510.8h25.5v25h-25.5zM1799.8 3510.8h25.5v25h-25.5zM1664.4 3540.4h25.5v25h-25.5zM1691.5 3540.4h25.5v25h-25.5zM1718.5 3540.4h25.5v25h-25.5zM1745.6 3540.4h25.5v25h-25.5zM1772.7 3540.4h25.5v25h-25.5zM1799.8 3540.4h25.5v25h-25.5zM1664.4 3570h25.5v25h-25.5zM1691.5 3570h25.5v25h-25.5zM1718.5 3570h25.5v25h-25.5zM1745.6 3570h25.5v25h-25.5zM1772.7 3570h25.5v25h-25.5zM1799.8 3570h25.5v25h-25.5zM1664.4 3599.7h25.5v25h-25.5zM1691.5 3599.7h25.5v25h-25.5zM1718.5 3599.7h25.5v25h-25.5zM1745.6 3599.7h25.5v25h-25.5zM1772.7 3599.7h25.5v25h-25.5zM1799.8 3599.7h25.5v25h-25.5zM1664.4 3629.3h25.5v25h-25.5zM1691.5 3629.3h25.5v25h-25.5zM1718.5 3629.3h25.5v25h-25.5zM1745.6 3629.3h25.5v25h-25.5zM1772.7 3629.3h25.5v25h-25.5zM1799.8 3629.3h25.5v25h-25.5zM1664.4 3658.9h25.5v25h-25.5zM1691.5 3658.9h25.5v25h-25.5zM1718.5 3658.9h25.5v25h-25.5zM1745.6 3658.9h25.5v25h-25.5zM1772.7 3658.9h25.5v25h-25.5zM1799.8 3658.9h25.5v25h-25.5zM1664.4 3688.6h25.5v25h-25.5zM1691.5 3688.6h25.5v25h-25.5zM1718.5 3688.6h25.5v25h-25.5zM1745.6 3688.6h25.5v25h-25.5zM1772.7 3688.6h25.5v25h-25.5zM1799.8 3688.6h25.5v25h-25.5zM1664.4 3718.2h25.5v25h-25.5zM1691.5 3718.2h25.5v25h-25.5zM1718.5 3718.2h25.5v25h-25.5zM1745.6 3718.2h25.5v25h-25.5zM1772.7 3718.2h25.5v25h-25.5zM1799.8 3718.2h25.5v25h-25.5zM1664.4 3747.8h25.5v25h-25.5zM1691.5 3747.8h25.5v25h-25.5zM1718.5 3747.8h25.5v25h-25.5zM1745.6 3747.8h25.5v25h-25.5zM1772.7 3747.8h25.5v25h-25.5zM1799.8 3747.8h25.5v25h-25.5zM1664.4 3777.4h25.5v25h-25.5zM1691.5 3777.4h25.5v25h-25.5zM1718.5 3777.4h25.5v25h-25.5zM1745.6 3777.4h25.5v25h-25.5zM1772.7 3777.4h25.5v25h-25.5zM1799.8 3777.4h25.5v25h-25.5zM1664.4 3807.1h25.5v25h-25.5zM1691.5 3807.1h25.5v25h-25.5zM1718.5 3807.1h25.5v25h-25.5zM1745.6 3807.1h25.5v25h-25.5zM1772.7 3807.1h25.5v25h-25.5zM1799.8 3807.1h25.5v25h-25.5zM1664.4 3836.7h25.5v25h-25.5zM1691.5 3836.7h25.5v25h-25.5zM1718.5 3836.7h25.5v25h-25.5zM1745.6 3836.7h25.5v25h-25.5zM1772.7 3836.7h25.5v25h-25.5zM1799.8 3836.7h25.5v25h-25.5z" fill="#9a3ea0"/>
<path d="M1800.7 134.1h23.7v23.2h-23.7zM1827.8 134.1h23.7v23.2h-23.7zM1854.9 134.1h23.7v23.2h-23.7zM1800.7 163.7h23.7v23.2h-23.7zM1827.8 163.7h23.7v23.2h-23.7zM1854.9 163.7h23.7v23.2h-23.7zM1692.4 193.4h23.7v23.2h-23.7zM1719.4 193.4h23.7v23.2h-23.7zM1800.7 193.4h23.7v23.2h-23.7zM1827.8 193.4h23.7v23.2h-23.7zM1854.9 193.4h23.7v23.2h-23.7zM1692.4 223h23.7v23.2h-23.7zM1719.4 223h23.7v23.2h-23.7zM1800.7 223h23.7v23.2h-23.7zM1827.8 223h23.7v23.2h-23.7zM1854.9 223h23.7v23.2h-23.7zM1692.4 252.6h23.7v23.2h-23.7zM1719.4 252.6h23.7v23.2h-23.7zM1800.7 252.6h23.7v23.2h-23.7zM1827.8 252.6h23.7v23.2h-23.7zM1854.9 252.6h23.7v23.2h-23.7zM1692.4 282.2h23.7v23.2h-23.7zM1719.4 282.2h23.7v23.2h-23.7zM1800.7 282.2h23.7v23.2h-23.7zM1827.8 282.2h23.7v23.2h-23.7zM1854.9 282.2h23.7v23.2h-23.7zM1719.4 311.9h23.7v23.2h-23.7zM1800.7 311.9h23.7v23.2h-23.7zM1827.8 311.9h23.7v23.2h-23.7zM1854.9 311.9h23.7v23.2h-23.7zM1719.4 341.5h23.7v23.2h-23.7zM1800.7 341.5h23.7v23.2h-23.7zM1827.8 341.5h23.7v23.2h-23.7zM1854.9 341.5h23.7v23.2h-23.7zM1719.4 371.1h23.7v23.2h-23.7zM1800.7 371.1h23.7v23.2h-23.7zM1827.8 371.1h23.7v23.2h-23.7zM1854.9 371.1h23.7v23.2h-23.7zM1719.4 400.8h23.7v23.2h-23.7zM1800.7 400.8h23.7v23.2h-23.7zM1827.8 400.8h23.7v23.2h-23.7zM1854.9 400.8h23.7v23.2h-23.7zM1719.4 430.4h23.7v23.2h-23.7zM1800.7 430.4h23.7v23.2h-23.7zM1827.8 430.4h23.7v23.2h-23.7zM1854.9 430.4h23.7v23.2h-23.7zM1719.4 460h23.7v23.2h-23.7zM1800.7 460h23.7v23.2h-23.7zM1827.8 460h23.7v23.2h-23.7zM1854.9 460h23.7v23.2h-23.7zM1719.4 489.6h23.7v23.2h-23.7zM1800.7 489.6h23.7v23.2h-23.7zM1827.8 489.6h23.7v23.2h-23.7zM1854.9 489.6h23.7v23.2h-23.7zM1692.4 519.3h23.7v23.2h-23.7zM1719.4 519.3h23.7v23.2h-23.7zM1800.7 519.3h23.7v23.2h-23.7zM1827.8 519.3h23.7v23.2h-23.7zM1854.9 519.3h23.7v23.2h-23.7zM1692.4 548.9h23.7v23.2h-23.7zM1719.4 548.9h23.7v23.2h-23.7zM1800.7 548.9h23.7v23.2h-23.7zM1827.8 548.9h23.7v23.2h-23.7zM1854.9 548.9h23.7v23.2h-23.7zM1692.4 578.5h23.7v23.2h-23.7zM1719.4 578.5h23.7v23.2h-23.7zM1800.7 578.5h23.7v23.2h-23.7zM1827.8 578.5h23.7v23.2h-23.7zM1854.9 578.5h23.7v23.2h-23.7zM1719.4 608.1h23.7v23.2h-23.7zM1800.7 608.1h23.7v23.2h-23.7zM1827.8 608.1h23.7v23.2h-23.7zM1854.9 608.1h23.7v23.2h-23.7zM1719.4 637.8h23.7v23.2h-23.7zM1800.7 637.8h23.7v23.2h-23.7zM1827.8 637.8h23.7v23.2h-23.7zM1854.9 637.8h23.7v23.2h-23.7zM1719.4 667.4h23.7v23.2h-23.7zM1827.8 667.4h23.7v23.2h-23.7zM1854.9 667.4h23.7v23.2h-23.7zM1692.4 697h23.7v23.2h-23.7zM1719.4 697h23.7v23.2h-23.7zM1800.7 697h23.7v23.2h-23.7zM1827.8 697h23.7v23.2h-23.7zM1854.9 697h23.7v23.2h-23.7zM1692.4 726.7h23.7v23.2h-23.7zM1719.4 726.7h23.7v23.2h-23.7zM1800.7 726.7h23.7v23.2h-23.7zM1827.8 726.7h23.7v23.2h-23.7zM1854.9 726.7h23.7v23.2h-23.7zM1692.4 756.3h23.7v23.2h-23.7zM1719.4 756.3h23.7v23.2h-23.7zM1800.7 756.3h23.7v23.2h-23.7zM1827.8 756.3h23.7v23.2h-23.7zM1854.9 756.3h23.7v23.2h-23.7zM1692.4 785.9h23.7v23.2h-23.7zM1719.4 785.9h23.7v23.2h-23.7zM1800.7 785.9h23.7v23.2h-23.7zM1827.8 785.9h23.7v23.2h-23.7zM1854.9 785.9h23.7v23.2h-23.7zM1692.4 815.5h23.7v23.2h-23.7zM1719.4 815.5h23.7v23.2h-23.7zM1800.7 815.5h23.7v23.2h-23.7zM1827.8 815.5h23.7v23.2h-23.7zM1854.9 815.5h23.7v23.2h-23.7zM1692.4 845.2h23.7v23.2h-23.7zM1719.4 845.2h23.7v23.2h-23.7zM1800.7 845.2h23.7v23.2h-23.7zM1827.8 845.2h23.7v23.2h-23.7zM1854.9 845.2h23.7v23.2h-23.7zM1692.4 874.8h23.7v23.2h-23.7zM1719.4 874.8h23.7v23.2h-23.7zM1800.7 874.8h23.7v23.2h-23.7zM1827.8 874.8h23.7v23.2h-23.7zM1854.9 874.8h23.7v23.2h-23.7zM1692.4 904.4h23.7v23.2h-23.7zM1719.4 904.4h23.7v23.2h-23.7zM1800.7 904.4h23.7v23.2h-23.7zM1827.8 904.4h23.7v23.2h-23.7zM1854.9 904.4h23.7v23.2h-23.7zM1692.4 934.1h23.7v23.2h-23.7zM1719.4 934.1h23.7v23.2h-23.7zM1800.7 934.1h23.7v23.2h-23.7zM1827.8 934.1h23.7v23.2h-23.7zM1854.9 934.1h23.7v23.2h-23.7zM1692.4 963.7h23.7v23.2h-23.7zM1719.4 963.7h23.7v23.2h-23.7zM1800.7 963.7h23.7v23.2h-23.7zM1827.8 963.7h23.7v23.2h-23.7zM1854.9 963.7h23.7v23.2h-23.7zM1719.4 993.3h23.7v23.2h-23.7zM1800.7 993.3h23.7v23.2h-23.7zM1827.8 993.3h23.7v23.2h-23.7zM1854.9 993.3h23.7v23.2h-23.7zM1719.4 1022.9h23.7v23.2h-23.7zM1827.8 1022.9h23.7v23.2h-23.7zM1854.9 1022.9h23.7v23.2h-23.7zM1665.3 1052.6h23.7v23.2h-23.7zM1692.4 1052.6h23.7v23.2h-23.7zM1719.4 1052.6h23.7v23.2h-23.7zM1827.8 1052.6h23.7v23.2h-23.7zM1854.9 1052.6h23.7v23.2h-23.7zM1692.4 1082.2h23.7v23.2h-23.7zM1719.4 1082.2h23.7v23.2h-23.7zM1827.8 1082.2h23.7v23.2h-23.7zM1854.9 1082.2h23.7v23.2h-23.7zM1692.4 1111.8h23.7v23.2h-23.7zM1719.4 1111.8h23.7v23.2h-23.7zM1827.8 1111.8h23.7v23.2h-23.7zM1854.9 1111.8h23.7v23.2h-23.7zM1692.4 1141.5h23.7v23.2h-23.7zM1719.4 1141.5h23.7v23.2h-23.7zM1827.8 1141.5h23.7v23.2h-23.7zM1854.9 1141.5h23.7v23.2h-23.7zM1692.4 1171.1h23.7v23.2h-23.7zM1719.4 1171.1h23.7v23.2h-23.7zM1827.8 1171.1h23.7v23.2h-23.7zM1854.9 1171.1h23.7v23.2h-23.7zM1692.4 1200.7h23.7v23.2h-23.7zM1719.4 1200.7h23.7v23.2h-23.7zM1800.7 1200.7h23.7v23.2h-23.7zM1827.8 1200.7h23.7v23.2h-23.7zM1854.9 1200.7h23.7v23.2h-23.7zM1692.4 1230.3h23.7v23.2h-23.7zM1719.4 1230.3h23.7v23.2h-23.7zM1800.7 1230.3h23.7v23.2h-23.7zM1827.8 1230.3h23.7v23.2h-23.7zM1854.9 1230.3h23.7v23.2h-23.7zM1692.4 1260h23.7v23.2h-23.7zM1719.4 1260h23.7v23.2h-23.7zM1800.7 1260h23.7v23.2h-23.7zM1827.8 1260h23.7v23.2h-23.7zM1854.9 1260h23.7v23.2h-23.7zM1692.4 1289.6h23.7v23.2h-23.7zM1719.4 1289.6h23.7v23.2h-23.7zM1800.7 1289.6h23.7v23.2h-23.7zM1827.8 1289.6h23.7v23.2h-23.7zM1854.9 1289.6h23.7v23.2h-23.7zM1692.4 1319.2h23.7v23.2h-23.7zM1719.4 1319.2h23.7v23.2h-23.7zM1800.7 1319.2h23.7v23.2h-23.7zM1827.8 1319.2h23.7v23.2h-23.7zM1854.9 1319.2h23.7v23.2h-23.7zM1692.4 1348.8h23.7v23.2h-23.7zM1719.4 1348.8h23.7v23.2h-23.7zM1800.7 1348.8h23.7v23.2h-23.7zM1827.8 1348.8h23.7v23.2h-23.7zM1854.9 1348.8h23.7v23.2h-23.7zM1692.4 1378.5h23.7v23.2h-23.7zM1719.4 1378.5h23.7v23.2h-23.7zM1800.7 1378.5h23.7v23.2h-23.7zM1827.8 1378.5h23.7v23.2h-23.7zM1854.9 1378.5h23.7v23.2h-23.7zM1692.4 1408.1h23.7v23.2h-23.7zM1719.4 1408.1h23.7v23.2h-23.7zM1800.7 1408.1h23.7v23.2h-23.7zM1827.8 1408.1h23.7v23.2h-23.7zM1854.9 1408.1h23.7v23.2h-23.7zM1692.4 1437.7h23.7v23.2h-23.7zM1719.4 1437.7h23.7v23.2h-23.7zM1800.7 1437.7h23.7v23.2h-23.7zM1827.8 1437.7h23.7v23.2h-23.7zM1854.9 1437.7h23.7v23.2h-23.7zM1692.4 1467.4h23.7v23.2h-23.7zM1719.4 1467.4h23.7v23.2h-23.7zM1800.7 1467.4h23.7v23.2h-23.7zM1827.8 1467.4h23.7v23.2h-23.7zM1854.9 1467.4h23.7v23.2h-23.7zM1692.4 1497h23.7v23.2h-23.7zM1719.4 1497h23.7v23.2h-23.7zM1800.7 1497h23.7v23.2h-23.7zM1827.8 1497h23.7v23.2h-23.7zM1854.9 1497h23.7v23.2h-23.7zM1692.4 1526.6h23.7v23.2h-23.7zM1719.4 1526.6h23.7v23.2h-23.7zM1800.7 1526.6h23.7v23.2h-23.7zM1827.8 1526.6h23.7v23.2h-23.7zM1854.9 1526.6h23.7v23.2h-23.7zM1692.4 1556.2h23.7v23.2h-23.7zM1719.4 1556.2h23.7v23.2h-23.7zM1800.7 1556.2h23.7v23.2h-23.7zM1827.8 1556.2h23.7v23.2h-23.7zM1854.9 1556.2h23.7v23.2h-23.7zM1692.4 1585.9h23.7v23.2h-23.7zM1719.4 1585.9h23.7v23.2h-23.7zM1800.7 1585.9h23.7v23.2h-23.7zM1827.8 1585.9h23.7v23.2h-23.7zM1854.9 1585.9h23.7v23.2h-23.7zM1692.4 1615.5h23.7v23.2h-23.7zM1719.4 1615.5h23.7v23.2h-23.7zM1800.7 1615.5h23.7v23.2h-23.7zM1827.8 1615.5h23.7v23.2h-23.7zM1854.9 1615.5h23.7v23.2h-23.7zM1692.4 1645.1h23.7v23.2h-23.7zM1719.4 1645.1h23.7v23.2h-23.7zM1800.7 1645.1h23.7v23.2h-23.7zM1827.8 1645.1h23.7v23.2h-23.7zM1854.9 1645.1h23.7v23.2h-23.7zM1692.4 1674.8h23.7v23.2h-23.7zM1719.4 1674.8h23.7v23.2h-23.7zM1800.7 1674.8h23.7v23.2h-23.7zM1827.8 1674.8h23.7v23.2h-23.7zM1854.9 1674.8h23.7v23.2h-23.7zM1692.4 1704.4h23.7v23.2h-23.7zM1719.4 1704.4h23.7v23.2h-23.7zM1800.7 1704.4h23.7v23.2h-23.7zM1827.8 1704.4h23.7v23.2h-23.7zM1854.9 1704.4h23.7v23.2h-23.7zM1692.4 1734h23.7v23.2h-23.7zM1719.4 1734h23.7v23.2h-23.7zM1827.8 1734h23.7v23.2h-23.7zM1854.9 1734h23.7v23.2h-23.7zM1692.4 1763.6h23.7v23.2h-23.7zM1719.4 1763.6h23.7v23.2h-23.7zM1827.8 1763.6h23.7v23.2h-23.7zM1854.9 1763.6h23.7v23.2h-23.7zM1692.4 1793.3h23.7v23.2h-23.7zM1719.4 1793.3h23.7v23.2h-23.7zM1827.8 1793.3h23.7v23.2h-23.7zM1854.9 1793.3h23.7v23.2h-23.7zM1692.4 1822.9h23.7v23.2h-23.7zM1719.4 1822.9h23.7v23.2h-23.7zM1827.8 1822.9h23.7v23.2h-23.7zM1854.9 1822.9h23.7v23.2h-23.7zM1692.4 1852.5h23.7v23.2h-23.7zM1719.4 1852.5h23.7v23.2h-23.7zM1827.8 1852.5h23.7v23.2h-23.7zM1854.9 1852.5h23.7v23.2h-23.7zM1692.4 1882.2h23.7v23.2h-23.7zM1719.4 1882.2h23.7v23.2h-23.7zM1827.8 1882.2h23.7v23.2h-23.7zM1854.9 1882.2h23.7v23.2h-23.7zM1692.4 1911.8h23.7v23.2h-23.7zM1719.4 1911.8h23.7v23.2h-23.7zM1800.7 1911.8h23.7v23.2h-23.7zM1827.8 1911.8h23.7v23.2h-23.7zM1854.9 1911.8h23.7v23.2h-23.7zM1692.4 1941.4h23.7v23.2h-23.7zM1719.4 1941.4h23.7v23.2h-23.7zM1800.7 1941.4h23.7v23.2h-23.7zM1827.8 1941.4h23.7v23.2h-23.7zM1854.9 1941.4h23.7v23.2h-23.7zM1692.4 1971h23.7v23.2h-23.7zM1719.4 1971h23.7v23.2h-23.7zM1800.7 1971h23.7v23.2h-23.7zM1827.8 1971h23.7v23.2h-23.7zM1854.9 1971h23.7v23.2h-23.7zM1692.4 2000.7h23.7v23.2h-23.7zM1719.4 2000.7h23.7v23.2h-23.7zM1800.7 2000.7h23.7v23.2h-23.7zM1827.8 2000.7h23.7v23.2h-23.7zM1854.9 2000.7h23.7v23.2h-23.7zM1692.4 2030.3h23.7v23.2h-23.7zM1719.4 2030.3h23.7v23.2h-23.7zM1800.7 2030.3h23.7v23.2h-23.7zM1827.8 2030.3h23.7v23.2h-23.7zM1854.9 2030.3h23.7v23.2h-23.7zM1692.4 2059.9h23.7v23.2h-23.7zM1719.4 2059.9h23.7v23.2h-23.7zM1800.7 2059.9h23.7v23.2h-23.7zM1827.8 2059.9h23.7v23.2h-23.7zM1854.9 2059.9h23.7v23.2h-23.7zM1692.4 2089.5h23.7v23.2h-23.7zM1719.4 2089.5h23.7v23.2h-23.7zM1800.7 2089.5h23.7v23.2h-23.7zM1827.8 2089.5h23.7v23.2h-23.7zM1854.9 2089.5h23.7v23.2h-23.7zM1827.8 2119.2h23.7v23.2h-23.7zM1854.9 2119.2h23.7v23.2h-23.7zM1827.8 2148.8h23.7v23.2h-23.7zM1854.9 2148.8h23.7v23.2h-23.7zM1692.4 2178.4h23.7v23.2h-23.7zM1827.8 2178.4h23.7v23.2h-23.7zM1854.9 2178.4h23.7v23.2h-23.7zM1827.8 2208.1h23.7v23.2h-23.7zM1854.9 2208.1h23.7v23.2h-23.7zM1827.8 2237.7h23.7v23.2h-23.7zM1854.9 2237.7h23.7v23.2h-23.7zM1827.8 2267.3h23.7v23.2h-23.7zM1854.9 2267.3h23.7v23.2h-23.7zM1827.8 2296.9h23.7v23.2h-23.7zM1854.9 2296.9h23.7v23.2h-23.7zM1827.8 2326.6h23.7v23.2h-23.7zM1854.9 2326.6h23.7v23.2h-23.7zM1800.7 2356.2h23.7v23.2h-23.7zM1827.8 2356.2h23.7v23.2h-23.7zM1854.9 2356.2h23.7v23.2h-23.7zM1827.8 2385.8h23.7v23.2h-23.7zM1854.9 2385.8h23.7v23.2h-23.7zM1692.4 2415.5h23.7v23.2h-23.7zM1827.8 2415.5h23.7v23.2h-23.7zM1854.9 2415.5h23.7v23.2h-23.7zM1827.8 2445.1h23.7v23.2h-23.7zM1854.9 2445.1h23.7v23.2h-23.7zM1692.4 2534h23.7v23.2h-23.7zM1827.8 2534h23.7v23.2h-23.7zM1854.9 2534h23.7v23.2h-23.7zM1827.8 2563.6h23.7v23.2h-23.7zM1854.9 2563.6h23.7v23.2h-23.7zM1827.8 2593.2h23.7v23.2h-23.7zM1854.9 2593.2h23.7v23.2h-23.7zM1827.8 2622.9h23.7v23.2h-23.7zM1854.9 2622.9h23.7v23.2h-23.7zM1827.8 2652.5h23.7v23.2h-23.7zM1854.9 2652.5h23.7v23.2h-23.7zM1827.8 2682.1h23.7v23.2h-23.7zM1854.9 2682.1h23.7v23.2h-23.7zM1827.8 2711.7h23.7v23.2h-23.7zM1854.9 2711.7h23.7v23.2h-23.7zM1827.8 2741.4h23.7v23.2h-23.7zM1854.9 2741.4h23.7v23.2h-23.7zM1827.8 2771h23.7v23.2h-23.7zM1854.9 2771h23.7v23.2h-23.7zM1827.8 2800.6h23.7v23.2h-23.7zM1854.9 2800.6h23.7v23.2h-23.7zM1692.4 2830.2h23.7v23.2h-23.7zM1827.8 2830.2h23.7v23.2h-23.7zM1854.9 2830.2h23.7v23.2h-23.7zM1827.8 2859.9h23.7v23.2h-23.7zM1854.9 2859.9h23.7v23.2h-23.7zM1827.8 2889.5h23.7v23.2h-23.7zM1854.9 2889.5h23.7v23.2h-23.7zM1827.8 2919.1h23.7v23.2h-23.7zM1854.9 2919.1h23.7v23.2h-23.7zM1827.8 2948.8h23.7v23.2h-23.7zM1854.9 2948.8h23.7v23.2h-23.7zM1827.8 2978.4h23.7v23.2h-23.7zM1854.9 2978.4h23.7v23.2h-23.7zM1827.8 3008h23.7v23.2h-23.7zM1854.9 3008h23.7v23.2h-23.7zM1692.4 3037.6h23.7v23.2h-23.7zM1827.8 3037.6h23.7v23.2h-23.7zM1854.9 3037.6h23.7v23.2h-23.7zM1692.4 3067.3h23.7v23.2h-23.7zM1827.8 3067.3h23.7v23.2h-23.7zM1854.9 3067.3h23.7v23.2h-23.7zM1692.4 3096.9h23.7v23.2h-23.7zM1827.8 3096.9h23.7v23.2h-23.7zM1854.9 3096.9h23.7v23.2h-23.7zM1692.4 3126.5h23.7v23.2h-23.7zM1827.8 3126.5h23.7v23.2h-23.7zM1854.9 3126.5h23.7v23.2h-23.7zM1827.8 3156.2h23.7v23.2h-23.7zM1854.9 3156.2h23.7v23.2h-23.7zM1692.4 3185.8h23.7v23.2h-23.7zM1827.8 3185.8h23.7v23.2h-23.7zM1854.9 3185.8h23.7v23.2h-23.7zM1692.4 3215.4h23.7v23.2h-23.7zM1827.8 3215.4h23.7v23.2h-23.7zM1854.9 3215.4h23.7v23.2h-23.7zM1692.4 3245h23.7v23.2h-23.7zM1827.8 3245h23.7v23.2h-23.7zM1854.9 3245h23.7v23.2h-23.7zM1692.4 3274.7h23.7v23.2h-23.7zM1827.8 3274.7h23.7v23.2h-23.7zM1854.9 3274.7h23.7v23.2h-23.7zM1827.8 3304.3h23.7v23.2h-23.7zM1854.9 3304.3h23.7v23.2h-23.7zM1827.8 3333.9h23.7v23.2h-23.7zM1854.9 3333.9h23.7v23.2h-23.7zM1827.8 3363.6h23.7v23.2h-23.7zM1854.9 3363.6h23.7v23.2h-23.7zM1827.8 3393.2h23.7v23.2h-23.7zM1854.9 3393.2h23.7v23.2h-23.7zM1692.4 3422.8h23.7v23.2h-23.7zM1827.8 3422.8h23.7v23.2h-23.7zM1854.9 3422.8h23.7v23.2h-23.7zM1692.4 3452.4h23.7v23.2h-23.7zM1827.8 3452.4h23.7v23.2h-23.7zM1854.9 3452.4h23.7v23.2h-23.7zM1692.4 3482.1h23.7v23.2h-23.7zM1827.8 3482.1h23.7v23.2h-23.7zM1854.9 3482.1h23.7v23.2h-23.7zM1692.4 3511.7h23.7v23.2h-23.7zM1827.8 3511.7h23.7v23.2h-23.7zM1854.9 3511.7h23.7v23.2h-23.7zM1827.8 3541.3h23.7v23.2h-23.7zM1854.9 3541.3h23.7v23.2h-23.7zM1827.8 3570.9h23.7v23.2h-23.7zM1854.9 3570.9h23.7v23.2h-23.7zM1827.8 3600.6h23.7v23.2h-23.7zM1854.9 3600.6h23.7v23.2h-23.7zM1827.8 3630.2h23.7v23.2h-23.7zM1854.9 3630.2h23.7v23.2h-23.7zM1827.8 3659.8h23.7v23.2h-23.7zM1854.9 3659.8h23.7v23.2h-23.7zM1827.8 3689.5h23.7v23.2h-23.7zM1854.9 3689.5h23.7v23.2h-23.7zM1827.8 3719.1h23.7v23.2h-23.7zM1854.9 3719.1h23.7v23.2h-23.7zM1827.8 3748.7h23.7v23.2h-23.7zM1854.9 3748.7h23.7v23.2h-23.7zM1827.8 3778.3h23.7v23.2h-23.7zM1854.9 3778.3h23.7v23.2h-23.7zM1827.8 3808h23.7v23.2h-23.7zM1854.9 3808h23.7v23.2h-23.7zM1827.8 3837.6h23.7v23.2h-23.7zM1854.9 3837.6h23.7v23.2h-23.7z" fill="#fff" stroke="#d4a8d8" stroke-width="1.8"/>
<path d="M1881.1 133.2h25.5v25h-25.5zM1908.2 133.2h25.5v25h-25.5zM1881.1 162.8h25.5v25h-25.5zM1908.2 162.8h25.5v25h-25.5zM1881.1 192.5h25.5v25h-25.5zM1908.2 192.5h25.5v25h-25.5zM1881.1 222.1h25.5v25h-25.5zM1908.2 222.1h25.5v25h-25.5zM1881.1 251.7h25.5v25h-25.5zM1908.2 251.7h25.5v25h-25.5zM1881.1 281.3h25.5v25h-25.5zM1908.2 281.3h25.5v25h-25.5zM1881.1 311h25.5v25h-25.5zM1908.2 311h25.5v25h-25.5zM1881.1 340.6h25.5v25h-25.5zM1908.2 340.6h25.5v25h-25.5zM1881.1 370.2h25.5v25h-25.5zM1908.2 370.2h25.5v25h-25.5zM1881.1 399.9h25.5v25h-25.5zM1908.2 399.9h25.5v25h-25.5zM1881.1 429.5h25.5v25h-25.5zM1908.2 429.5h25.5v25h-25.5zM1881.1 459.1h25.5v25h-25.5zM1908.2 459.1h25.5v25h-25.5zM1881.1 488.7h25.5v25h-25.5zM1908.2 488.7h25.5v25h-25.5zM1881.1 518.4h25.5v25h-25.5zM1908.2 518.4h25.5v25h-25.5zM1881.1 548h25.5v25h-25.5zM1908.2 548h25.5v25h-25.5zM1881.1 577.6h25.5v25h-25.5zM1908.2 577.6h25.5v25h-25.5zM1881.1 607.2h25.5v25h-25.5zM1908.2 607.2h25.5v25h-25.5zM1881.1 636.9h25.5v25h-25.5zM1908.2 636.9h25.5v25h-25.5zM1881.1 666.5h25.5v25h-25.5zM1908.2 666.5h25.5v25h-25.5zM1881.1 696.1h25.5v25h-25.5zM1908.2 696.1h25.5v25h-25.5zM1881.1 725.8h25.5v25h-25.5zM1908.2 725.8h25.5v25h-25.5zM1881.1 755.4h25.5v25h-25.5zM1908.2 755.4h25.5v25h-25.5zM1881.1 785h25.5v25h-25.5zM1908.2 785h25.5v25h-25.5zM1881.1 814.6h25.5v25h-25.5zM1908.2 814.6h25.5v25h-25.5zM1881.1 844.3h25.5v25h-25.5zM1908.2 844.3h25.5v25h-25.5zM1881.1 873.9h25.5v25h-25.5zM1908.2 873.9h25.5v25h-25.5zM1881.1 903.5h25.5v25h-25.5zM1908.2 903.5h25.5v25h-25.5zM1881.1 933.2h25.5v25h-25.5zM1908.2 933.2h25.5v25h-25.5zM1881.1 962.8h25.5v25h-25.5zM1908.2 962.8h25.5v25h-25.5zM1881.1 992.4h25.5v25h-25.5zM1908.2 992.4h25.5v25h-25.5zM1881.1 1022h25.5v25h-25.5zM1908.2 1022h25.5v25h-25.5zM1881.1 1051.7h25.5v25h-25.5zM1908.2 1051.7h25.5v25h-25.5zM1881.1 1081.3h25.5v25h-25.5zM1908.2 1081.3h25.5v25h-25.5zM1881.1 1110.9h25.5v25h-25.5zM1908.2 1110.9h25.5v25h-25.5zM1881.1 1140.6h25.5v25h-25.5zM1908.2 1140.6h25.5v25h-25.5zM1881.1 1170.2h25.5v25h-25.5zM1908.2 1170.2h25.5v25h-25.5zM1881.1 1199.8h25.5v25h-25.5zM1908.2 1199.8h25.5v25h-25.5zM1881.1 1229.4h25.5v25h-25.5zM1908.2 1229.4h25.5v25h-25.5zM1881.1 1259.1h25.5v25h-25.5zM1908.2 1259.1h25.5v25h-25.5zM1881.1 1288.7h25.5v25h-25.5zM1908.2 1288.7h25.5v25h-25.5zM1881.1 1318.3h25.5v25h-25.5zM1908.2 1318.3h25.5v25h-25.5zM1881.1 1347.9h25.5v25h-25.5zM1908.2 1347.9h25.5v25h-25.5zM1881.1 1377.6h25.5v25h-25.5zM1908.2 1377.6h25.5v25h-25.5zM1881.1 1407.2h25.5v25h-25.5zM1908.2 1407.2h25.5v25h-25.5zM1881.1 1436.8h25.5v25h-25.5zM1908.2 1436.8h25.5v25h-25.5zM1881.1 1466.5h25.5v25h-25.5zM1908.2 1466.5h25.5v25h-25.5zM1881.1 1496.1h25.5v25h-25.5zM1908.2 1496.1h25.5v25h-25.5zM1881.1 1525.7h25.5v25h-25.5zM1908.2 1525.7h25.5v25h-25.5zM1881.1 1555.3h25.5v25h-25.5zM1908.2 1555.3h25.5v25h-25.5zM1881.1 1585h25.5v25h-25.5zM1908.2 1585h25.5v25h-25.5zM1881.1 1614.6h25.5v25h-25.5zM1908.2 1614.6h25.5v25h-25.5zM1881.1 1644.2h25.5v25h-25.5zM1908.2 1644.2h25.5v25h-25.5zM1881.1 1673.9h25.5v25h-25.5zM1908.2 1673.9h25.5v25h-25.5zM1881.1 1703.5h25.5v25h-25.5zM1908.2 1703.5h25.5v25h-25.5zM1881.1 1733.1h25.5v25h-25.5zM1908.2 1733.1h25.5v25h-25.5zM1881.1 1762.7h25.5v25h-25.5zM1908.2 1762.7h25.5v25h-25.5zM1881.1 1792.4h25.5v25h-25.5zM1908.2 1792.4h25.5v25h-25.5zM1881.1 1822h25.5v25h-25.5zM1908.2 1822h25.5v25h-25.5zM1881.1 1851.6h25.5v25h-25.5zM1908.2 1851.6h25.5v25h-25.5zM1881.1 1881.3h25.5v25h-25.5zM1908.2 1881.3h25.5v25h-25.5zM1881.1 1910.9h25.5v25h-25.5zM1908.2 1910.9h25.5v25h-25.5zM1881.1 1940.5h25.5v25h-25.5zM1908.2 1940.5h25.5v25h-25.5zM1881.1 1970.1h25.5v25h-25.5zM1908.2 1970.1h25.5v25h-25.5zM1881.1 1999.8h25.5v25h-25.5zM1908.2 1999.8h25.5v25h-25.5zM1881.1 2029.4h25.5v25h-25.5zM1908.2 2029.4h25.5v25h-25.5zM1881.1 2059h25.5v25h-25.5zM1908.2 2059h25.5v25h-25.5zM1881.1 2088.6h25.5v25h-25.5zM1908.2 2088.6h25.5v25h-25.5zM1881.1 2118.3h25.5v25h-25.5zM1908.2 2118.3h25.5v25h-25.5zM1881.1 2147.9h25.5v25h-25.5zM1908.2 2147.9h25.5v25h-25.5zM1881.1 2177.5h25.5v25h-25.5zM1908.2 2177.5h25.5v25h-25.5zM1881.1 2207.2h25.5v25h-25.5zM1908.2 2207.2h25.5v25h-25.5zM1881.1 2236.8h25.5v25h-25.5zM1908.2 2236.8h25.5v25h-25.5zM1881.1 2266.4h25.5v25h-25.5zM1908.2 2266.4h25.5v25h-25.5zM1881.1 2296h25.5v25h-25.5zM1908.2 2296h25.5v25h-25.5zM1881.1 2325.7h25.5v25h-25.5zM1908.2 2325.7h25.5v25h-25.5zM1881.1 2355.3h25.5v25h-25.5zM1908.2 2355.3h25.5v25h-25.5zM1881.1 2384.9h25.5v25h-25.5zM1908.2 2384.9h25.5v25h-25.5zM1881.1 2414.6h25.5v25h-25.5zM1908.2 2414.6h25.5v25h-25.5zM1881.1 2444.2h25.5v25h-25.5zM1908.2 2444.2h25.5v25h-25.5zM1881.1 2473.8h25.5v25h-25.5zM1908.2 2473.8h25.5v25h-25.5zM1881.1 2503.4h25.5v25h-25.5zM1908.2 2503.4h25.5v25h-25.5zM1881.1 2533.1h25.5v25h-25.5zM1908.2 2533.1h25.5v25h-25.5zM1881.1 2562.7h25.5v25h-25.5zM1908.2 2562.7h25.5v25h-25.5zM1881.1 2592.3h25.5v25h-25.5zM1908.2 2592.3h25.5v25h-25.5zM1881.1 2622h25.5v25h-25.5zM1908.2 2622h25.5v25h-25.5zM1881.1 2651.6h25.5v25h-25.5zM1908.2 2651.6h25.5v25h-25.5zM1881.1 2681.2h25.5v25h-25.5zM1908.2 2681.2h25.5v25h-25.5zM1881.1 2710.8h25.5v25h-25.5zM1908.2 2710.8h25.5v25h-25.5zM1881.1 2740.5h25.5v25h-25.5zM1908.2 2740.5h25.5v25h-25.5zM1881.1 2770.1h25.5v25h-25.5zM1908.2 2770.1h25.5v25h-25.5zM1881.1 2799.7h25.5v25h-25.5zM1908.2 2799.7h25.5v25h-25.5zM1881.1 2829.3h25.5v25h-25.5zM1908.2 2829.3h25.5v25h-25.5zM1881.1 2859h25.5v25h-25.5zM1908.2 2859h25.5v25h-25.5zM1881.1 2888.6h25.5v25h-25.5zM1908.2 2888.6h25.5v25h-25.5zM1881.1 2918.2h25.5v25h-25.5zM1908.2 2918.2h25.5v25h-25.5zM1881.1 2947.9h25.5v25h-25.5zM1908.2 2947.9h25.5v25h-25.5zM1881.1 2977.5h25.5v25h-25.5zM1908.2 2977.5h25.5v25h-25.5zM1881.1 3007.1h25.5v25h-25.5zM1908.2 3007.1h25.5v25h-25.5zM1881.1 3036.7h25.5v25h-25.5zM1908.2 3036.7h25.5v25h-25.5zM1881.1 3066.4h25.5v25h-25.5zM1908.2 3066.4h25.5v25h-25.5zM1881.1 3096h25.5v25h-25.5zM1908.2 3096h25.5v25h-25.5zM1881.1 3125.6h25.5v25h-25.5zM1908.2 3125.6h25.5v25h-25.5zM1881.1 3155.3h25.5v25h-25.5zM1908.2 3155.3h25.5v25h-25.5zM1881.1 3184.9h25.5v25h-25.5zM1908.2 3184.9h25.5v25h-25.5zM1881.1 3214.5h25.5v25h-25.5zM1908.2 3214.5h25.5v25h-25.5zM1881.1 3244.1h25.5v25h-25.5zM1908.2 3244.1h25.5v25h-25.5zM1881.1 3273.8h25.5v25h-25.5zM1908.2 3273.8h25.5v25h-25.5zM1881.1 3303.4h25.5v25h-25.5zM1908.2 3303.4h25.5v25h-25.5zM1881.1 3333h25.5v25h-25.5zM1908.2 3333h25.5v25h-25.5zM1881.1 3362.7h25.5v25h-25.5zM1908.2 3362.7h25.5v25h-25.5zM1881.1 3392.3h25.5v25h-25.5zM1908.2 3392.3h25.5v25h-25.5zM1881.1 3421.9h25.5v25h-25.5zM1908.2 3421.9h25.5v25h-25.5zM1881.1 3451.5h25.5v25h-25.5zM1908.2 3451.5h25.5v25h-25.5zM1881.1 3481.2h25.5v25h-25.5zM1908.2 3481.2h25.5v25h-25.5zM1881.1 3510.8h25.5v25h-25.5zM1908.2 3510.8h25.5v25h-25.5zM1881.1 3540.4h25.5v25h-25.5zM1908.2 3540.4h25.5v25h-25.5zM1881.1 3570h25.5v25h-25.5zM1908.2 3570h25.5v25h-25.5zM1881.1 3599.7h25.5v25h-25.5zM1908.2 3599.7h25.5v25h-25.5zM1881.1 3629.3h25.5v25h-25.5zM1908.2 3629.3h25.5v25h-25.5zM1881.1 3658.9h25.5v25h-25.5zM1908.2 3658.9h25.5v25h-25.5zM1881.1 3688.6h25.5v25h-25.5zM1908.2 3688.6h25.5v25h-25.5zM1881.1 3718.2h25.5v25h-25.5zM1908.2 3718.2h25.5v25h-25.5zM1881.1 3747.8h25.5v25h-25.5zM1908.2 3747.8h25.5v25h-25.5zM1881.1 3777.4h25.5v25h-25.5zM1908.2 3777.4h25.5v25h-25.5zM1881.1 3807.1h25.5v25h-25.5zM1908.2 3807.1h25.5v25h-25.5zM1881.1 3836.7h25.5v25h-25.5zM1908.2 3836.7h25.5v25h-25.5z" fill="#008840"/>
<path d="M1935.3 133.2h25.5v25h-25.5zM1962.3 133.2h25.5v25h-25.5zM1989.4 133.2h25.5v25h-25.5zM2016.5 133.2h25.5v25h-25.5zM1935.3 162.8h25.5v25h-25.5zM1962.3 162.8h25.5v25h-25.5zM1989.4 162.8h25.5v25h-25.5zM2016.5 162.8h25.5v25h-25.5zM1989.4 192.5h25.5v25h-25.5zM2016.5 192.5h25.5v25h-25.5zM1989.4 222.1h25.5v25h-25.5zM2016.5 222.1h25.5v25h-25.5zM1989.4 251.7h25.5v25h-25.5zM2016.5 251.7h25.5v25h-25.5zM1989.4 281.3h25.5v25h-25.5zM2016.5 281.3h25.5v25h-25.5zM1989.4 311h25.5v25h-25.5zM2016.5 311h25.5v25h-25.5zM1989.4 340.6h25.5v25h-25.5zM2016.5 340.6h25.5v25h-25.5zM1989.4 370.2h25.5v25h-25.5zM2016.5 370.2h25.5v25h-25.5zM1935.3 399.9h25.5v25h-25.5zM1962.3 399.9h25.5v25h-25.5zM1989.4 399.9h25.5v25h-25.5zM2016.5 399.9h25.5v25h-25.5zM1935.3 429.5h25.5v25h-25.5zM1962.3 429.5h25.5v25h-25.5zM1989.4 429.5h25.5v25h-25.5zM2016.5 429.5h25.5v25h-25.5zM1935.3 459.1h25.5v25h-25.5zM1962.3 459.1h25.5v25h-25.5zM1989.4 459.1h25.5v25h-25.5zM2016.5 459.1h25.5v25h-25.5zM1935.3 488.7h25.5v25h-25.5zM1962.3 488.7h25.5v25h-25.5zM1989.4 488.7h25.5v25h-25.5zM2016.5 488.7h25.5v25h-25.5zM1989.4 518.4h25.5v25h-25.5zM2016.5 518.4h25.5v25h-25.5zM1989.4 548h25.5v25h-25.5zM2016.5 548h25.5v25h-25.5zM1989.4 577.6h25.5v25h-25.5zM2016.5 577.6h25.5v25h-25.5zM1935.3 607.2h25.5v25h-25.5zM1962.3 607.2h25.5v25h-25.5zM1989.4 607.2h25.5v25h-25.5zM2016.5 607.2h25.5v25h-25.5zM1935.3 636.9h25.5v25h-25.5zM1962.3 636.9h25.5v25h-25.5zM1989.4 636.9h25.5v25h-25.5zM2016.5 636.9h25.5v25h-25.5zM1935.3 666.5h25.5v25h-25.5zM1962.3 666.5h25.5v25h-25.5zM1989.4 666.5h25.5v25h-25.5zM2016.5 666.5h25.5v25h-25.5zM1989.4 696.1h25.5v25h-25.5zM2016.5 696.1h25.5v25h-25.5zM1989.4 725.8h25.5v25h-25.5zM2016.5 725.8h25.5v25h-25.5zM1989.4 755.4h25.5v25h-25.5zM2016.5 755.4h25.5v25h-25.5zM1989.4 785h25.5v25h-25.5zM2016.5 785h25.5v25h-25.5zM1989.4 814.6h25.5v25h-25.5zM2016.5 814.6h25.5v25h-25.5zM1989.4 844.3h25.5v25h-25.5zM2016.5 844.3h25.5v25h-25.5zM1989.4 873.9h25.5v25h-25.5zM2016.5 873.9h25.5v25h-25.5zM1935.3 903.5h25.5v25h-25.5zM1962.3 903.5h25.5v25h-25.5zM1989.4 903.5h25.5v25h-25.5zM2016.5 903.5h25.5v25h-25.5zM1935.3 933.2h25.5v25h-25.5zM1962.3 933.2h25.5v25h-25.5zM1989.4 933.2h25.5v25h-25.5zM2016.5 933.2h25.5v25h-25.5zM1962.3 962.8h25.5v25h-25.5zM1989.4 962.8h25.5v25h-25.5zM2016.5 962.8h25.5v25h-25.5zM1989.4 992.4h25.5v25h-25.5zM2016.5 992.4h25.5v25h-25.5zM1989.4 1022h25.5v25h-25.5zM2016.5 1022h25.5v25h-25.5zM1989.4 1051.7h25.5v25h-25.5zM2016.5 1051.7h25.5v25h-25.5zM1989.4 1081.3h25.5v25h-25.5zM2016.5 1081.3h25.5v25h-25.5zM1989.4 1110.9h25.5v25h-25.5zM2016.5 1110.9h25.5v25h-25.5zM1989.4 1140.6h25.5v25h-25.5zM2016.5 1140.6h25.5v25h-25.5zM1989.4 1170.2h25.5v25h-25.5zM2016.5 1170.2h25.5v25h-25.5zM1935.3 1199.8h25.5v25h-25.5zM1962.3 1199.8h25.5v25h-25.5zM1989.4 1199.8h25.5v25h-25.5zM2016.5 1199.8h25.5v25h-25.5zM1989.4 1229.4h25.5v25h-25.5zM2016.5 1229.4h25.5v25h-25.5zM1989.4 1259.1h25.5v25h-25.5zM2016.5 1259.1h25.5v25h-25.5zM1989.4 1288.7h25.5v25h-25.5zM2016.5 1288.7h25.5v25h-25.5zM1989.4 1318.3h25.5v25h-25.5zM2016.5 1318.3h25.5v25h-25.5zM1989.4 1347.9h25.5v25h-25.5zM2016.5 1347.9h25.5v25h-25.5zM1935.3 1377.6h25.5v25h-25.5zM1962.3 1377.6h25.5v25h-25.5zM1989.4 1377.6h25.5v25h-25.5zM2016.5 1377.6h25.5v25h-25.5zM1935.3 1407.2h25.5v25h-25.5zM1962.3 1407.2h25.5v25h-25.5zM1989.4 1407.2h25.5v25h-25.5zM2016.5 1407.2h25.5v25h-25.5zM1935.3 1436.8h25.5v25h-25.5zM1962.3 1436.8h25.5v25h-25.5zM1989.4 1436.8h25.5v25h-25.5zM2016.5 1436.8h25.5v25h-25.5zM1935.3 1466.5h25.5v25h-25.5zM1962.3 1466.5h25.5v25h-25.5zM1989.4 1466.5h25.5v25h-25.5zM2016.5 1466.5h25.5v25h-25.5zM1935.3 1496.1h25.5v25h-25.5zM1962.3 1496.1h25.5v25h-25.5zM1989.4 1496.1h25.5v25h-25.5zM2016.5 1496.1h25.5v25h-25.5zM1935.3 1525.7h25.5v25h-25.5zM1962.3 1525.7h25.5v25h-25.5zM1989.4 1525.7h25.5v25h-25.5zM2016.5 1525.7h25.5v25h-25.5zM1935.3 1555.3h25.5v25h-25.5zM1962.3 1555.3h25.5v25h-25.5zM1989.4 1555.3h25.5v25h-25.5zM2016.5 1555.3h25.5v25h-25.5zM1935.3 1585h25.5v25h-25.5zM1962.3 1585h25.5v25h-25.5zM1989.4 1585h25.5v25h-25.5zM2016.5 1585h25.5v25h-25.5zM1989.4 1614.6h25.5v25h-25.5zM2016.5 1614.6h25.5v25h-25.5zM1989.4 1644.2h25.5v25h-25.5zM2016.5 1644.2h25.5v25h-25.5zM1989.4 1673.9h25.5v25h-25.5zM2016.5 1673.9h25.5v25h-25.5zM1989.4 1703.5h25.5v25h-25.5zM2016.5 1703.5h25.5v25h-25.5zM1989.4 1733.1h25.5v25h-25.5zM2016.5 1733.1h25.5v25h-25.5zM1989.4 1762.7h25.5v25h-25.5zM2016.5 1762.7h25.5v25h-25.5zM1989.4 1792.4h25.5v25h-25.5zM2016.5 1792.4h25.5v25h-25.5zM1989.4 1822h25.5v25h-25.5zM2016.5 1822h25.5v25h-25.5zM1989.4 1851.6h25.5v25h-25.5zM2016.5 1851.6h25.5v25h-25.5zM1989.4 1881.3h25.5v25h-25.5zM2016.5 1881.3h25.5v25h-25.5zM1935.3 1910.9h25.5v25h-25.5zM1962.3 1910.9h25.5v25h-25.5zM1989.4 1910.9h25.5v25h-25.5zM2016.5 1910.9h25.5v25h-25.5zM1935.3 1940.5h25.5v25h-25.5zM1962.3 1940.5h25.5v25h-25.5zM1989.4 1940.5h25.5v25h-25.5zM2016.5 1940.5h25.5v25h-25.5zM1989.4 1970.1h25.5v25h-25.5zM2016.5 1970.1h25.5v25h-25.5zM1935.3 1999.8h25.5v25h-25.5zM1962.3 1999.8h25.5v25h-25.5zM1989.4 1999.8h25.5v25h-25.5zM2016.5 1999.8h25.5v25h-25.5zM1935.3 2029.4h25.5v25h-25.5zM1962.3 2029.4h25.5v25h-25.5zM1989.4 2029.4h25.5v25h-25.5zM2016.5 2029.4h25.5v25h-25.5zM1935.3 2059h25.5v25h-25.5zM1962.3 2059h25.5v25h-25.5zM1989.4 2059h25.5v25h-25.5zM2016.5 2059h25.5v25h-25.5zM1935.3 2088.6h25.5v25h-25.5zM1962.3 2088.6h25.5v25h-25.5zM1989.4 2088.6h25.5v25h-25.5zM2016.5 2088.6h25.5v25h-25.5zM1935.3 2118.3h25.5v25h-25.5zM1962.3 2118.3h25.5v25h-25.5zM1989.4 2118.3h25.5v25h-25.5zM2016.5 2118.3h25.5v25h-25.5zM1989.4 2147.9h25.5v25h-25.5zM2016.5 2147.9h25.5v25h-25.5zM1935.3 2177.5h25.5v25h-25.5zM1962.3 2177.5h25.5v25h-25.5zM1989.4 2177.5h25.5v25h-25.5zM2016.5 2177.5h25.5v25h-25.5zM1935.3 2207.2h25.5v25h-25.5zM1962.3 2207.2h25.5v25h-25.5zM1989.4 2207.2h25.5v25h-25.5zM2016.5 2207.2h25.5v25h-25.5zM1935.3 2236.8h25.5v25h-25.5zM1962.3 2236.8h25.5v25h-25.5zM1989.4 2236.8h25.5v25h-25.5zM2016.5 2236.8h25.5v25h-25.5zM1935.3 2266.4h25.5v25h-25.5zM1962.3 2266.4h25.5v25h-25.5zM1989.4 2266.4h25.5v25h-25.5zM2016.5 2266.4h25.5v25h-25.5zM1935.3 2296h25.5v25h-25.5zM1962.3 2296h25.5v25h-25.5zM1989.4 2296h25.5v25h-25.5zM2016.5 2296h25.5v25h-25.5zM1935.3 2325.7h25.5v25h-25.5zM1962.3 2325.7h25.5v25h-25.5zM1989.4 2325.7h25.5v25h-25.5zM2016.5 2325.7h25.5v25h-25.5zM1989.4 2355.3h25.5v25h-25.5zM2016.5 2355.3h25.5v25h-25.5zM1989.4 2384.9h25.5v25h-25.5zM2016.5 2384.9h25.5v25h-25.5zM1989.4 2414.6h25.5v25h-25.5zM2016.5 2414.6h25.5v25h-25.5zM1989.4 2444.2h25.5v25h-25.5zM2016.5 2444.2h25.5v25h-25.5zM1989.4 2473.8h25.5v25h-25.5zM2016.5 2473.8h25.5v25h-25.5zM1935.3 2503.4h25.5v25h-25.5zM1962.3 2503.4h25.5v25h-25.5zM1989.4 2503.4h25.5v25h-25.5zM2016.5 2503.4h25.5v25h-25.5zM1989.4 2533.1h25.5v25h-25.5zM2016.5 2533.1h25.5v25h-25.5zM1989.4 2562.7h25.5v25h-25.5zM2016.5 2562.7h25.5v25h-25.5zM1935.3 2592.3h25.5v25h-25.5zM1962.3 2592.3h25.5v25h-25.5zM1989.4 2592.3h25.5v25h-25.5zM2016.5 2592.3h25.5v25h-25.5zM1989.4 2622h25.5v25h-25.5zM2016.5 2622h25.5v25h-25.5zM1935.3 2651.6h25.5v25h-25.5zM1962.3 2651.6h25.5v25h-25.5zM1989.4 2651.6h25.5v25h-25.5zM2016.5 2651.6h25.5v25h-25.5zM1989.4 2681.2h25.5v25h-25.5zM2016.5 2681.2h25.5v25h-25.5zM1989.4 2710.8h25.5v25h-25.5zM2016.5 2710.8h25.5v25h-25.5zM1989.4 2740.5h25.5v25h-25.5zM2016.5 2740.5h25.5v25h-25.5zM1989.4 2770.1h25.5v25h-25.5zM2016.5 2770.1h25.5v25h-25.5zM1935.3 2799.7h25.5v25h-25.5zM1962.3 2799.7h25.5v25h-25.5zM1989.4 2799.7h25.5v25h-25.5zM2016.5 2799.7h25.5v25h-25.5zM1989.4 2829.3h25.5v25h-25.5zM2016.5 2829.3h25.5v25h-25.5zM1935.3 2859h25.5v25h-25.5zM1962.3 2859h25.5v25h-25.5zM1989.4 2859h25.5v25h-25.5zM2016.5 2859h25.5v25h-25.5zM1935.3 2888.6h25.5v25h-25.5zM1962.3 2888.6h25.5v25h-25.5zM1989.4 2888.6h25.5v25h-25.5zM2016.5 2888.6h25.5v25h-25.5zM1989.4 2918.2h25.5v25h-25.5zM2016.5 2918.2h25.5v25h-25.5zM1989.4 2947.9h25.5v25h-25.5zM2016.5 2947.9h25.5v25h-25.5zM1989.4 2977.5h25.5v25h-25.5zM2016.5 2977.5h25.5v25h-25.5zM1989.4 3007.1h25.5v25h-25.5zM2016.5 3007.1h25.5v25h-25.5zM1935.3 3036.7h25.5v25h-25.5zM1962.3 3036.7h25.5v25h-25.5zM1989.4 3036.7h25.5v25h-25.5zM2016.5 3036.7h25.5v25h-25.5zM1989.4 3066.4h25.5v25h-25.5zM2016.5 3066.4h25.5v25h-25.5zM1935.3 3096h25.5v25h-25.5zM1962.3 3096h25.5v25h-25.5zM1989.4 3096h25.5v25h-25.5zM2016.5 3096h25.5v25h-25.5zM1935.3 3125.6h25.5v25h-25.5zM1962.3 3125.6h25.5v25h-25.5zM1989.4 3125.6h25.5v25h-25.5zM2016.5 3125.6h25.5v25h-25.5zM1989.4 3155.3h25.5v25h-25.5zM2016.5 3155.3h25.5v25h-25.5zM1935.3 3184.9h25.5v25h-25.5zM1962.3 3184.9h25.5v25h-25.5zM1989.4 3184.9h25.5v25h-25.5zM2016.5 3184.9h25.5v25h-25.5zM1935.3 3214.5h25.5v25h-25.5zM1962.3 3214.5h25.5v25h-25.5zM1989.4 3214.5h25.5v25h-25.5zM2016.5 3214.5h25.5v25h-25.5zM1935.3 3244.1h25.5v25h-25.5zM1962.3 3244.1h25.5v25h-25.5zM1989.4 3244.1h25.5v25h-25.5zM2016.5 3244.1h25.5v25h-25.5zM1935.3 3273.8h25.5v25h-25.5zM1962.3 3273.8h25.5v25h-25.5zM1989.4 3273.8h25.5v25h-25.5zM2016.5 3273.8h25.5v25h-25.5zM1989.4 3303.4h25.5v25h-25.5zM2016.5 3303.4h25.5v25h-25.5zM1989.4 3333h25.5v25h-25.5zM2016.5 3333h25.5v25h-25.5zM1989.4 3362.7h25.5v25h-25.5zM2016.5 3362.7h25.5v25h-25.5zM1989.4 3392.3h25.5v25h-25.5zM2016.5 3392.3h25.5v25h-25.5zM1989.4 3421.9h25.5v25h-25.5zM2016.5 3421.9h25.5v25h-25.5zM1989.4 3451.5h25.5v25h-25.5zM2016.5 3451.5h25.5v25h-25.5zM1989.4 3481.2h25.5v25h-25.5zM2016.5 3481.2h25.5v25h-25.5zM1989.4 3510.8h25.5v25h-25.5zM2016.5 3510.8h25.5v25h-25.5zM1989.4 3540.4h25.5v25h-25.5zM2016.5 3540.4h25.5v25h-25.5zM1989.4 3570h25.5v25h-25.5zM2016.5 3570h25.5v25h-25.5zM1989.4 3599.7h25.5v25h-25.5zM2016.5 3599.7h25.5v25h-25.5zM1989.4 3629.3h25.5v25h-25.5zM2016.5 3629.3h25.5v25h-25.5zM1935.3 3658.9h25.5v25h-25.5zM1962.3 3658.9h25.5v25h-25.5zM1989.4 3658.9h25.5v25h-25.5zM2016.5 3658.9h25.5v25h-25.5zM1935.3 3688.6h25.5v25h-25.5zM1962.3 3688.6h25.5v25h-25.5zM1989.4 3688.6h25.5v25h-25.5zM2016.5 3688.6h25.5v25h-25.5zM1935.3 3718.2h25.5v25h-25.5zM1962.3 3718.2h25.5v25h-25.5zM1989.4 3718.2h25.5v25h-25.5zM2016.5 3718.2h25.5v25h-25.5zM1935.3 3747.8h25.5v25h-25.5zM1962.3 3747.8h25.5v25h-25.5zM1989.4 3747.8h25.5v25h-25.5zM2016.5 3747.8h25.5v25h-25.5zM1935.3 3777.4h25.5v25h-25.5zM1962.3 3777.4h25.5v25h-25.5zM1989.4 3777.4h25.5v25h-25.5zM2016.5 3777.4h25.5v25h-25.5zM1935.3 3807.1h25.5v25h-25.5zM1962.3 3807.1h25.5v25h-25.5zM1989.4 3807.1h25.5v25h-25.5zM2016.5 3807.1h25.5v25h-25.5zM1935.3 3836.7h25.5v25h-25.5zM1962.3 3836.7h25.5v25h-25.5zM1989.4 3836.7h25.5v25h-25.5zM2016.5 3836.7h25.5v25h-25.5z" fill="#ff6268"/>
<path d="M1936.2 193.4h23.7v23.2h-23.7zM1963.2 193.4h23.7v23.2h-23.7zM1936.2 223h23.7v23.2h-23.7zM1963.2 223h23.7v23.2h-23.7zM1936.2 252.6h23.7v23.2h-23.7zM1963.2 252.6h23.7v23.2h-23.7zM1936.2 282.2h23.7v23.2h-23.7zM1963.2 282.2h23.7v23.2h-23.7zM1936.2 311.9h23.7v23.2h-23.7zM1963.2 311.9h23.7v23.2h-23.7zM1936.2 341.5h23.7v23.2h-23.7zM1963.2 341.5h23.7v23.2h-23.7zM1936.2 371.1h23.7v23.2h-23.7zM1963.2 371.1h23.7v23.2h-23.7zM1936.2 519.3h23.7v23.2h-23.7zM1963.2 519.3h23.7v23.2h-23.7zM1936.2 548.9h23.7v23.2h-23.7zM1963.2 548.9h23.7v23.2h-23.7zM1936.2 578.5h23.7v23.2h-23.7zM1963.2 578.5h23.7v23.2h-23.7zM1936.2 697h23.7v23.2h-23.7zM1963.2 697h23.7v23.2h-23.7zM1936.2 726.7h23.7v23.2h-23.7zM1963.2 726.7h23.7v23.2h-23.7zM1936.2 756.3h23.7v23.2h-23.7zM1963.2 756.3h23.7v23.2h-23.7zM1936.2 785.9h23.7v23.2h-23.7zM1963.2 785.9h23.7v23.2h-23.7zM1936.2 815.5h23.7v23.2h-23.7zM1963.2 815.5h23.7v23.2h-23.7zM1936.2 845.2h23.7v23.2h-23.7zM1963.2 845.2h23.7v23.2h-23.7zM1936.2 874.8h23.7v23.2h-23.7zM1963.2 874.8h23.7v23.2h-23.7zM1936.2 963.7h23.7v23.2h-23.7zM1936.2 993.3h23.7v23.2h-23.7zM1963.2 993.3h23.7v23.2h-23.7zM1936.2 1022.9h23.7v23.2h-23.7zM1963.2 1022.9h23.7v23.2h-23.7zM1936.2 1052.6h23.7v23.2h-23.7zM1963.2 1052.6h23.7v23.2h-23.7zM1936.2 1082.2h23.7v23.2h-23.7zM1963.2 1082.2h23.7v23.2h-23.7zM1936.2 1111.8h23.7v23.2h-23.7zM1963.2 1111.8h23.7v23.2h-23.7zM1936.2 1141.5h23.7v23.2h-23.7zM1963.2 1141.5h23.7v23.2h-23.7zM1936.2 1171.1h23.7v23.2h-23.7zM1963.2 1171.1h23.7v23.2h-23.7zM1936.2 1230.3h23.7v23.2h-23.7zM1963.2 1230.3h23.7v23.2h-23.7zM1936.2 1260h23.7v23.2h-23.7zM1963.2 1260h23.7v23.2h-23.7zM1936.2 1289.6h23.7v23.2h-23.7zM1963.2 1289.6h23.7v23.2h-23.7zM1936.2 1319.2h23.7v23.2h-23.7zM1963.2 1319.2h23.7v23.2h-23.7zM1936.2 1348.8h23.7v23.2h-23.7zM1963.2 1348.8h23.7v23.2h-23.7zM1936.2 1615.5h23.7v23.2h-23.7zM1963.2 1615.5h23.7v23.2h-23.7zM1936.2 1645.1h23.7v23.2h-23.7zM1963.2 1645.1h23.7v23.2h-23.7zM1936.2 1674.8h23.7v23.2h-23.7zM1963.2 1674.8h23.7v23.2h-23.7zM1936.2 1704.4h23.7v23.2h-23.7zM1963.2 1704.4h23.7v23.2h-23.7zM1936.2 1734h23.7v23.2h-23.7zM1963.2 1734h23.7v23.2h-23.7zM1936.2 1763.6h23.7v23.2h-23.7zM1963.2 1763.6h23.7v23.2h-23.7zM1936.2 1793.3h23.7v23.2h-23.7zM1963.2 1793.3h23.7v23.2h-23.7zM1936.2 1822.9h23.7v23.2h-23.7zM1963.2 1822.9h23.7v23.2h-23.7zM1936.2 1852.5h23.7v23.2h-23.7zM1963.2 1852.5h23.7v23.2h-23.7zM1936.2 1882.2h23.7v23.2h-23.7zM1963.2 1882.2h23.7v23.2h-23.7zM1936.2 1971h23.7v23.2h-23.7zM1963.2 1971h23.7v23.2h-23.7zM1936.2 2148.8h23.7v23.2h-23.7zM1963.2 2148.8h23.7v23.2h-23.7zM1936.2 2356.2h23.7v23.2h-23.7zM1963.2 2356.2h23.7v23.2h-23.7zM1936.2 2385.8h23.7v23.2h-23.7zM1963.2 2385.8h23.7v23.2h-23.7zM1936.2 2415.5h23.7v23.2h-23.7zM1963.2 2415.5h23.7v23.2h-23.7zM1936.2 2445.1h23.7v23.2h-23.7zM1963.2 2445.1h23.7v23.2h-23.7zM1936.2 2474.7h23.7v23.2h-23.7zM1963.2 2474.7h23.7v23.2h-23.7zM1936.2 2534h23.7v23.2h-23.7zM1963.2 2534h23.7v23.2h-23.7zM1936.2 2563.6h23.7v23.2h-23.7zM1963.2 2563.6h23.7v23.2h-23.7zM1936.2 2622.9h23.7v23.2h-23.7zM1963.2 2622.9h23.7v23.2h-23.7zM1936.2 2682.1h23.7v23.2h-23.7zM1963.2 2682.1h23.7v23.2h-23.7zM1936.2 2711.7h23.7v23.2h-23.7zM1963.2 2711.7h23.7v23.2h-23.7zM1936.2 2741.4h23.7v23.2h-23.7zM1963.2 2741.4h23.7v23.2h-23.7zM1936.2 2771h23.7v23.2h-23.7zM1963.2 2771h23.7v23.2h-23.7zM1936.2 2830.2h23.7v23.2h-23.7zM1963.2 2830.2h23.7v23.2h-23.7zM1936.2 2919.1h23.7v23.2h-23.7zM1963.2 2919.1h23.7v23.2h-23.7zM1936.2 2948.8h23.7v23.2h-23.7zM1963.2 2948.8h23.7v23.2h-23.7zM1936.2 2978.4h23.7v23.2h-23.7zM1963.2 2978.4h23.7v23.2h-23.7zM1936.2 3008h23.7v23.2h-23.7zM1963.2 3008h23.7v23.2h-23.7zM1936.2 3067.3h23.7v23.2h-23.7zM1963.2 3067.3h23.7v23.2h-23.7zM1936.2 3156.2h23.7v23.2h-23.7zM1963.2 3156.2h23.7v23.2h-23.7zM1936.2 3304.3h23.7v23.2h-23.7zM1963.2 3304.3h23.7v23.2h-23.7zM1936.2 3333.9h23.7v23.2h-23.7zM1963.2 3333.9h23.7v23.2h-23.7zM1936.2 3363.6h23.7v23.2h-23.7zM1963.2 3363.6h23.7v23.2h-23.7zM1936.2 3393.2h23.7v23.2h-23.7zM1963.2 3393.2h23.7v23.2h-23.7zM1936.2 3422.8h23.7v23.2h-23.7zM1963.2 3422.8h23.7v23.2h-23.7zM1936.2 3452.4h23.7v23.2h-23.7zM1963.2 3452.4h23.7v23.2h-23.7zM1936.2 3482.1h23.7v23.2h-23.7zM1963.2 3482.1h23.7v23.2h-23.7zM1936.2 3511.7h23.7v23.2h-23.7zM1963.2 3511.7h23.7v23.2h-23.7zM1936.2 3541.3h23.7v23.2h-23.7zM1963.2 3541.3h23.7v23.2h-23.7zM1936.2 3570.9h23.7v23.2h-23.7zM1963.2 3570.9h23.7v23.2h-23.7zM1936.2 3600.6h23.7v23.2h-23.7zM1963.2 3600.6h23.7v23.2h-23.7zM1936.2 3630.2h23.7v23.2h-23.7zM1963.2 3630.2h23.7v23.2h-23.7z" fill="#fff" stroke="#ffb6ba" stroke-width="1.8"/>
<path d="M2043.6 2177.5h25.5v25h-25.5zM2070.7 2177.5h25.5v25h-25.5zM2097.8 2177.5h25.5v25h-25.5zM2043.6 2207.2h25.5v25h-25.5zM2070.7 2207.2h25.5v25h-25.5zM2097.8 2207.2h25.5v25h-25.5zM2043.6 2236.8h25.5v25h-25.5zM2070.7 2236.8h25.5v25h-25.5zM2097.8 2236.8h25.5v25h-25.5zM2043.6 2266.4h25.5v25h-25.5zM2070.7 2266.4h25.5v25h-25.5zM2097.8 2266.4h25.5v25h-25.5zM2070.7 2296h25.5v25h-25.5zM2097.8 2296h25.5v25h-25.5zM2043.6 2325.7h25.5v25h-25.5zM2070.7 2325.7h25.5v25h-25.5zM2097.8 2325.7h25.5v25h-25.5zM2070.7 2355.3h25.5v25h-25.5zM2097.8 2355.3h25.5v25h-25.5zM2070.7 2384.9h25.5v25h-25.5zM2097.8 2384.9h25.5v25h-25.5zM2043.6 2414.6h25.5v25h-25.5zM2070.7 2414.6h25.5v25h-25.5zM2097.8 2414.6h25.5v25h-25.5zM2043.6 2444.2h25.5v25h-25.5zM2070.7 2444.2h25.5v25h-25.5zM2097.8 2444.2h25.5v25h-25.5zM2043.6 2473.8h25.5v25h-25.5zM2070.7 2473.8h25.5v25h-25.5zM2097.8 2473.8h25.5v25h-25.5zM2043.6 2503.4h25.5v25h-25.5zM2070.7 2503.4h25.5v25h-25.5zM2097.8 2503.4h25.5v25h-25.5zM2043.6 2533.1h25.5v25h-25.5zM2070.7 2533.1h25.5v25h-25.5zM2097.8 2533.1h25.5v25h-25.5zM2043.6 2562.7h25.5v25h-25.5zM2070.7 2562.7h25.5v25h-25.5zM2097.8 2562.7h25.5v25h-25.5zM2043.6 2592.3h25.5v25h-25.5zM2070.7 2592.3h25.5v25h-25.5zM2097.8 2592.3h25.5v25h-25.5zM2043.6 2622h25.5v25h-25.5zM2070.7 2622h25.5v25h-25.5zM2097.8 2622h25.5v25h-25.5zM2043.6 2651.6h25.5v25h-25.5zM2070.7 2651.6h25.5v25h-25.5zM2097.8 2651.6h25.5v25h-25.5zM2043.6 2681.2h25.5v25h-25.5zM2070.7 2681.2h25.5v25h-25.5zM2097.8 2681.2h25.5v25h-25.5zM2043.6 2710.8h25.5v25h-25.5zM2070.7 2710.8h25.5v25h-25.5zM2097.8 2710.8h25.5v25h-25.5zM2043.6 2740.5h25.5v25h-25.5zM2070.7 2740.5h25.5v25h-25.5zM2097.8 2740.5h25.5v25h-25.5zM2043.6 2770.1h25.5v25h-25.5zM2070.7 2770.1h25.5v25h-25.5zM2097.8 2770.1h25.5v25h-25.5zM2043.6 2799.7h25.5v25h-25.5zM2070.7 2799.7h25.5v25h-25.5zM2097.8 2799.7h25.5v25h-25.5zM2043.6 2829.3h25.5v25h-25.5zM2070.7 2829.3h25.5v25h-25.5zM2097.8 2829.3h25.5v25h-25.5zM2043.6 2859h25.5v25h-25.5zM2070.7 2859h25.5v25h-25.5zM2097.8 2859h25.5v25h-25.5zM2043.6 2888.6h25.5v25h-25.5zM2070.7 2888.6h25.5v25h-25.5zM2097.8 2888.6h25.5v25h-25.5zM2043.6 2918.2h25.5v25h-25.5zM2070.7 2918.2h25.5v25h-25.5zM2097.8 2918.2h25.5v25h-25.5zM2043.6 2947.9h25.5v25h-25.5zM2070.7 2947.9h25.5v25h-25.5zM2097.8 2947.9h25.5v25h-25.5zM2043.6 2977.5h25.5v25h-25.5zM2070.7 2977.5h25.5v25h-25.5zM2097.8 2977.5h25.5v25h-25.5zM2043.6 3007.1h25.5v25h-25.5zM2070.7 3007.1h25.5v25h-25.5zM2097.8 3007.1h25.5v25h-25.5zM2043.6 3036.7h25.5v25h-25.5zM2070.7 3036.7h25.5v25h-25.5zM2097.8 3036.7h25.5v25h-25.5zM2043.6 3066.4h25.5v25h-25.5zM2070.7 3066.4h25.5v25h-25.5zM2097.8 3066.4h25.5v25h-25.5zM2043.6 3096h25.5v25h-25.5zM2070.7 3096h25.5v25h-25.5zM2097.8 3096h25.5v25h-25.5zM2043.6 3125.6h25.5v25h-25.5zM2070.7 3125.6h25.5v25h-25.5zM2097.8 3125.6h25.5v25h-25.5zM2043.6 3155.3h25.5v25h-25.5zM2070.7 3155.3h25.5v25h-25.5zM2097.8 3155.3h25.5v25h-25.5zM2043.6 3184.9h25.5v25h-25.5zM2070.7 3184.9h25.5v25h-25.5zM2097.8 3184.9h25.5v25h-25.5zM2043.6 3214.5h25.5v25h-25.5zM2070.7 3214.5h25.5v25h-25.5zM2097.8 3214.5h25.5v25h-25.5zM2043.6 3244.1h25.5v25h-25.5zM2070.7 3244.1h25.5v25h-25.5zM2097.8 3244.1h25.5v25h-25.5zM2043.6 3273.8h25.5v25h-25.5zM2070.7 3273.8h25.5v25h-25.5zM2097.8 3273.8h25.5v25h-25.5zM2043.6 3303.4h25.5v25h-25.5zM2070.7 3303.4h25.5v25h-25.5zM2097.8 3303.4h25.5v25h-25.5zM2043.6 3333h25.5v25h-25.5zM2070.7 3333h25.5v25h-25.5zM2097.8 3333h25.5v25h-25.5zM2043.6 3362.7h25.5v25h-25.5zM2070.7 3362.7h25.5v25h-25.5zM2097.8 3362.7h25.5v25h-25.5zM2043.6 3392.3h25.5v25h-25.5zM2070.7 3392.3h25.5v25h-25.5zM2097.8 3392.3h25.5v25h-25.5zM2043.6 3421.9h25.5v25h-25.5zM2070.7 3421.9h25.5v25h-25.5zM2097.8 3421.9h25.5v25h-25.5zM2043.6 3451.5h25.5v25h-25.5zM2070.7 3451.5h25.5v25h-25.5zM2097.8 3451.5h25.5v25h-25.5zM2043.6 3481.2h25.5v25h-25.5zM2070.7 3481.2h25.5v25h-25.5zM2097.8 3481.2h25.5v25h-25.5zM2043.6 3510.8h25.5v25h-25.5zM2070.7 3510.8h25.5v25h-25.5zM2097.8 3510.8h25.5v25h-25.5zM2043.6 3540.4h25.5v25h-25.5zM2070.7 3540.4h25.5v25h-25.5zM2097.8 3540.4h25.5v25h-25.5zM2043.6 3570h25.5v25h-25.5zM2070.7 3570h25.5v25h-25.5zM2097.8 3570h25.5v25h-25.5zM2043.6 3599.7h25.5v25h-25.5zM2070.7 3599.7h25.5v25h-25.5zM2097.8 3599.7h25.5v25h-25.5zM2043.6 3629.3h25.5v25h-25.5zM2070.7 3629.3h25.5v25h-25.5zM2097.8 3629.3h25.5v25h-25.5zM2043.6 3658.9h25.5v25h-25.5zM2070.7 3658.9h25.5v25h-25.5zM2097.8 3658.9h25.5v25h-25.5zM2043.6 3688.6h25.5v25h-25.5zM2070.7 3688.6h25.5v25h-25.5zM2097.8 3688.6h25.5v25h-25.5zM2043.6 3718.2h25.5v25h-25.5zM2070.7 3718.2h25.5v25h-25.5zM2097.8 3718.2h25.5v25h-25.5zM2043.6 3747.8h25.5v25h-25.5zM2070.7 3747.8h25.5v25h-25.5zM2097.8 3747.8h25.5v25h-25.5zM2043.6 3777.4h25.5v25h-25.5zM2070.7 3777.4h25.5v25h-25.5zM2097.8 3777.4h25.5v25h-25.5zM2043.6 3807.1h25.5v25h-25.5zM2070.7 3807.1h25.5v25h-25.5zM2097.8 3807.1h25.5v25h-25.5zM2043.6 3836.7h25.5v25h-25.5zM2070.7 3836.7h25.5v25h-25.5zM2097.8 3836.7h25.5v25h-25.5z" fill="#b8561f"/>
<path d="M2044.5 134.1h23.7v23.2h-23.7zM2071.6 134.1h23.7v23.2h-23.7zM2098.7 134.1h23.7v23.2h-23.7zM2044.5 163.7h23.7v23.2h-23.7zM2071.6 163.7h23.7v23.2h-23.7zM2098.7 163.7h23.7v23.2h-23.7zM2044.5 193.4h23.7v23.2h-23.7zM2071.6 193.4h23.7v23.2h-23.7zM2098.7 193.4h23.7v23.2h-23.7zM2044.5 223h23.7v23.2h-23.7zM2071.6 223h23.7v23.2h-23.7zM2098.7 223h23.7v23.2h-23.7zM2044.5 252.6h23.7v23.2h-23.7zM2071.6 252.6h23.7v23.2h-23.7zM2098.7 252.6h23.7v23.2h-23.7zM2044.5 282.2h23.7v23.2h-23.7zM2071.6 282.2h23.7v23.2h-23.7zM2098.7 282.2h23.7v23.2h-23.7zM2044.5 311.9h23.7v23.2h-23.7zM2071.6 311.9h23.7v23.2h-23.7zM2098.7 311.9h23.7v23.2h-23.7zM2044.5 341.5h23.7v23.2h-23.7zM2071.6 341.5h23.7v23.2h-23.7zM2098.7 341.5h23.7v23.2h-23.7zM2044.5 371.1h23.7v23.2h-23.7zM2071.6 371.1h23.7v23.2h-23.7zM2098.7 371.1h23.7v23.2h-23.7zM2044.5 400.8h23.7v23.2h-23.7zM2071.6 400.8h23.7v23.2h-23.7zM2098.7 400.8h23.7v23.2h-23.7zM2044.5 430.4h23.7v23.2h-23.7zM2071.6 430.4h23.7v23.2h-23.7zM2098.7 430.4h23.7v23.2h-23.7zM2044.5 460h23.7v23.2h-23.7zM2071.6 460h23.7v23.2h-23.7zM2098.7 460h23.7v23.2h-23.7zM2044.5 489.6h23.7v23.2h-23.7zM2071.6 489.6h23.7v23.2h-23.7zM2098.7 489.6h23.7v23.2h-23.7zM2044.5 519.3h23.7v23.2h-23.7zM2071.6 519.3h23.7v23.2h-23.7zM2098.7 519.3h23.7v23.2h-23.7zM2044.5 548.9h23.7v23.2h-23.7zM2071.6 548.9h23.7v23.2h-23.7zM2098.7 548.9h23.7v23.2h-23.7zM2044.5 578.5h23.7v23.2h-23.7zM2071.6 578.5h23.7v23.2h-23.7zM2098.7 578.5h23.7v23.2h-23.7zM2044.5 608.1h23.7v23.2h-23.7zM2071.6 608.1h23.7v23.2h-23.7zM2098.7 608.1h23.7v23.2h-23.7zM2044.5 637.8h23.7v23.2h-23.7zM2071.6 637.8h23.7v23.2h-23.7zM2098.7 637.8h23.7v23.2h-23.7zM2044.5 667.4h23.7v23.2h-23.7zM2071.6 667.4h23.7v23.2h-23.7zM2098.7 667.4h23.7v23.2h-23.7zM2044.5 697h23.7v23.2h-23.7zM2071.6 697h23.7v23.2h-23.7zM2098.7 697h23.7v23.2h-23.7zM2044.5 726.7h23.7v23.2h-23.7zM2071.6 726.7h23.7v23.2h-23.7zM2098.7 726.7h23.7v23.2h-23.7zM2044.5 756.3h23.7v23.2h-23.7zM2071.6 756.3h23.7v23.2h-23.7zM2098.7 756.3h23.7v23.2h-23.7zM2044.5 785.9h23.7v23.2h-23.7zM2071.6 785.9h23.7v23.2h-23.7zM2098.7 785.9h23.7v23.2h-23.7zM2044.5 815.5h23.7v23.2h-23.7zM2071.6 815.5h23.7v23.2h-23.7zM2098.7 815.5h23.7v23.2h-23.7zM2044.5 845.2h23.7v23.2h-23.7zM2071.6 845.2h23.7v23.2h-23.7zM2098.7 845.2h23.7v23.2h-23.7zM2044.5 874.8h23.7v23.2h-23.7zM2071.6 874.8h23.7v23.2h-23.7zM2098.7 874.8h23.7v23.2h-23.7zM2044.5 904.4h23.7v23.2h-23.7zM2071.6 904.4h23.7v23.2h-23.7zM2098.7 904.4h23.7v23.2h-23.7zM2044.5 934.1h23.7v23.2h-23.7zM2071.6 934.1h23.7v23.2h-23.7zM2098.7 934.1h23.7v23.2h-23.7zM2044.5 963.7h23.7v23.2h-23.7zM2071.6 963.7h23.7v23.2h-23.7zM2098.7 963.7h23.7v23.2h-23.7zM2044.5 993.3h23.7v23.2h-23.7zM2071.6 993.3h23.7v23.2h-23.7zM2098.7 993.3h23.7v23.2h-23.7zM2044.5 1022.9h23.7v23.2h-23.7zM2071.6 1022.9h23.7v23.2h-23.7zM2098.7 1022.9h23.7v23.2h-23.7zM2044.5 1052.6h23.7v23.2h-23.7zM2071.6 1052.6h23.7v23.2h-23.7zM2098.7 1052.6h23.7v23.2h-23.7zM2044.5 1082.2h23.7v23.2h-23.7zM2071.6 1082.2h23.7v23.2h-23.7zM2098.7 1082.2h23.7v23.2h-23.7zM2044.5 1111.8h23.7v23.2h-23.7zM2071.6 1111.8h23.7v23.2h-23.7zM2098.7 1111.8h23.7v23.2h-23.7zM2044.5 1141.5h23.7v23.2h-23.7zM2071.6 1141.5h23.7v23.2h-23.7zM2098.7 1141.5h23.7v23.2h-23.7zM2044.5 1171.1h23.7v23.2h-23.7zM2071.6 1171.1h23.7v23.2h-23.7zM2098.7 1171.1h23.7v23.2h-23.7zM2044.5 1200.7h23.7v23.2h-23.7zM2071.6 1200.7h23.7v23.2h-23.7zM2098.7 1200.7h23.7v23.2h-23.7zM2044.5 1230.3h23.7v23.2h-23.7zM2071.6 1230.3h23.7v23.2h-23.7zM2098.7 1230.3h23.7v23.2h-23.7zM2044.5 1260h23.7v23.2h-23.7zM2071.6 1260h23.7v23.2h-23.7zM2098.7 1260h23.7v23.2h-23.7zM2044.5 1289.6h23.7v23.2h-23.7zM2071.6 1289.6h23.7v23.2h-23.7zM2098.7 1289.6h23.7v23.2h-23.7zM2044.5 1319.2h23.7v23.2h-23.7zM2071.6 1319.2h23.7v23.2h-23.7zM2098.7 1319.2h23.7v23.2h-23.7zM2044.5 1348.8h23.7v23.2h-23.7zM2071.6 1348.8h23.7v23.2h-23.7zM2098.7 1348.8h23.7v23.2h-23.7zM2044.5 1378.5h23.7v23.2h-23.7zM2071.6 1378.5h23.7v23.2h-23.7zM2098.7 1378.5h23.7v23.2h-23.7zM2044.5 1408.1h23.7v23.2h-23.7zM2071.6 1408.1h23.7v23.2h-23.7zM2098.7 1408.1h23.7v23.2h-23.7zM2044.5 1437.7h23.7v23.2h-23.7zM2071.6 1437.7h23.7v23.2h-23.7zM2098.7 1437.7h23.7v23.2h-23.7zM2044.5 1467.4h23.7v23.2h-23.7zM2071.6 1467.4h23.7v23.2h-23.7zM2098.7 1467.4h23.7v23.2h-23.7zM2044.5 1497h23.7v23.2h-23.7zM2071.6 1497h23.7v23.2h-23.7zM2098.7 1497h23.7v23.2h-23.7zM2044.5 1526.6h23.7v23.2h-23.7zM2071.6 1526.6h23.7v23.2h-23.7zM2098.7 1526.6h23.7v23.2h-23.7zM2044.5 1556.2h23.7v23.2h-23.7zM2071.6 1556.2h23.7v23.2h-23.7zM2098.7 1556.2h23.7v23.2h-23.7zM2044.5 1585.9h23.7v23.2h-23.7zM2071.6 1585.9h23.7v23.2h-23.7zM2098.7 1585.9h23.7v23.2h-23.7zM2044.5 1615.5h23.7v23.2h-23.7zM2071.6 1615.5h23.7v23.2h-23.7zM2098.7 1615.5h23.7v23.2h-23.7zM2044.5 1645.1h23.7v23.2h-23.7zM2071.6 1645.1h23.7v23.2h-23.7zM2098.7 1645.1h23.7v23.2h-23.7zM2044.5 1674.8h23.7v23.2h-23.7zM2071.6 1674.8h23.7v23.2h-23.7zM2098.7 1674.8h23.7v23.2h-23.7zM2044.5 1704.4h23.7v23.2h-23.7zM2071.6 1704.4h23.7v23.2h-23.7zM2098.7 1704.4h23.7v23.2h-23.7zM2044.5 1734h23.7v23.2h-23.7zM2071.6 1734h23.7v23.2h-23.7zM2098.7 1734h23.7v23.2h-23.7zM2044.5 1763.6h23.7v23.2h-23.7zM2071.6 1763.6h23.7v23.2h-23.7zM2098.7 1763.6h23.7v23.2h-23.7zM2044.5 1793.3h23.7v23.2h-23.7zM2071.6 1793.3h23.7v23.2h-23.7zM2098.7 1793.3h23.7v23.2h-23.7zM2044.5 1822.9h23.7v23.2h-23.7zM2071.6 1822.9h23.7v23.2h-23.7zM2098.7 1822.9h23.7v23.2h-23.7zM2044.5 1852.5h23.7v23.2h-23.7zM2071.6 1852.5h23.7v23.2h-23.7zM2098.7 1852.5h23.7v23.2h-23.7zM2044.5 1882.2h23.7v23.2h-23.7zM2071.6 1882.2h23.7v23.2h-23.7zM2098.7 1882.2h23.7v23.2h-23.7zM2044.5 1911.8h23.7v23.2h-23.7zM2071.6 1911.8h23.7v23.2h-23.7zM2098.7 1911.8h23.7v23.2h-23.7zM2044.5 1941.4h23.7v23.2h-23.7zM2071.6 1941.4h23.7v23.2h-23.7zM2098.7 1941.4h23.7v23.2h-23.7zM2044.5 1971h23.7v23.2h-23.7zM2071.6 1971h23.7v23.2h-23.7zM2098.7 1971h23.7v23.2h-23.7zM2044.5 2000.7h23.7v23.2h-23.7zM2071.6 2000.7h23.7v23.2h-23.7zM2098.7 2000.7h23.7v23.2h-23.7zM2044.5 2030.3h23.7v23.2h-23.7zM2071.6 2030.3h23.7v23.2h-23.7zM2098.7 2030.3h23.7v23.2h-23.7zM2044.5 2059.9h23.7v23.2h-23.7zM2071.6 2059.9h23.7v23.2h-23.7zM2098.7 2059.9h23.7v23.2h-23.7zM2044.5 2089.5h23.7v23.2h-23.7zM2071.6 2089.5h23.7v23.2h-23.7zM2098.7 2089.5h23.7v23.2h-23.7zM2044.5 2119.2h23.7v23.2h-23.7zM2071.6 2119.2h23.7v23.2h-23.7zM2098.7 2119.2h23.7v23.2h-23.7zM2044.5 2148.8h23.7v23.2h-23.7zM2071.6 2148.8h23.7v23.2h-23.7zM2098.7 2148.8h23.7v23.2h-23.7zM2044.5 2296.9h23.7v23.2h-23.7zM2044.5 2356.2h23.7v23.2h-23.7zM2044.5 2385.8h23.7v23.2h-23.7z" fill="#fff" stroke="#e0b59c" stroke-width="1.8"/>
<g class="hd">
<text transform="translate(1580 115.5) rotate(-90)">cadF</text>
<text transform="translate(1607.1 115.5) rotate(-90)">jlpA</text>
<text transform="translate(1634.2 115.5) rotate(-90)">pebA</text>
<text transform="translate(1661.3 115.5) rotate(-90)">porA</text>
<text transform="translate(1688.4 115.5) rotate(-90)">cheA</text>
<text transform="translate(1715.5 115.5) rotate(-90)">Cj1135</text>
<text transform="translate(1742.5 115.5) rotate(-90)">htrB</text>
<text transform="translate(1769.6 115.5) rotate(-90)">kpsD</text>
<text transform="translate(1796.7 115.5) rotate(-90)">kpsF</text>
<text transform="translate(1823.8 115.5) rotate(-90)">kpsM</text>
<text transform="translate(1850.9 115.5) rotate(-90)">neuA1</text>
<text transform="translate(1878 115.5) rotate(-90)">wlaN</text>
<text transform="translate(1905.1 115.5) rotate(-90)">ciaB</text>
<text transform="translate(1932.2 115.5) rotate(-90)">ciaC</text>
<text transform="translate(1959.3 115.5) rotate(-90)">flaA</text>
<text transform="translate(1986.3 115.5) rotate(-90)">flaB</text>
<text transform="translate(2013.4 115.5) rotate(-90)">flgB</text>
<text transform="translate(2040.5 115.5) rotate(-90)">flhB</text>
<text transform="translate(2067.6 115.5) rotate(-90)">cdtA</text>
<text transform="translate(2094.7 115.5) rotate(-90)">cdtB</text>
<text transform="translate(2121.8 115.5) rotate(-90)">cdtC</text>
</g>
<text class="lt" x="174.6" y="2858.8">CC</text>
<g class="lg">
<rect x="134.9" y="2874" width="38.8" height="38.8" rx="2.5" fill="#fd9a99"/>
<text x="189" y="2903.2">CC828</text>
<rect x="134.9" y="2920.9" width="38.8" height="38.8" rx="2.5" fill="#cfb0d8"/>
<text x="189" y="2950.1">-</text>
<rect x="134.9" y="2967.8" width="38.8" height="38.8" rx="2.5" fill="#04a014"/>
<text x="189" y="2997">CC354</text>
<rect x="134.9" y="3014.7" width="38.8" height="38.8" rx="2.5" fill="#90cbe3"/>
<text x="189" y="3043.9">CC574</text>
<rect x="134.9" y="3061.6" width="38.8" height="38.8" rx="2.5" fill="#ffff99"/>
<text x="189" y="3090.8">CC353</text>
<rect x="134.9" y="3108.5" width="38.8" height="38.8" rx="2.5" fill="#9ce088"/>
<text x="189" y="3137.7">CC52</text>
<rect x="134.9" y="3155.4" width="38.8" height="38.8" rx="2.5" fill="#7838a0"/>
<text x="189" y="3184.6">CC607</text>
<rect x="134.9" y="3202.3" width="38.8" height="38.8" rx="2.5" fill="#ffbf6f"/>
<text x="189" y="3231.5">CC460</text>
<rect x="134.9" y="3249.2" width="38.8" height="38.8" rx="2.5" fill="#92cde5"/>
<text x="189" y="3278.4">CC49</text>
<rect x="134.9" y="3296.1" width="38.8" height="38.8" rx="2.5" fill="#c4581f"/>
<text x="189" y="3325.3">CC48</text>
<rect x="134.9" y="3343" width="38.8" height="38.8" rx="2.5" fill="#ff8000"/>
<text x="189" y="3372.2">CC21</text>
<rect x="134.9" y="3389.9" width="38.8" height="38.8" rx="2.5" fill="#0574b8"/>
<text x="189" y="3419.1">CC443</text>
<rect x="134.9" y="3436.8" width="38.8" height="38.8" rx="2.5" fill="#ff1418"/>
<text x="189" y="3466">CC1150</text>
</g>
<text class="lt" x="385.5" y="2845.8">Species</text>
<rect x="377.4" y="2870.7" width="17.5" height="16.9" fill="#ff1416"/>
<text class="lg it" x="401.2" y="2888.9">Campylobacter coli</text>
<rect x="377.4" y="2909.9" width="17.5" height="16.9" fill="#0580c0"/>
<text class="lg it" x="401.2" y="2928.1">Campylobacter jejuni</text>
<text class="lt" x="386.4" y="2990.4">Location</text>
<rect x="377.4" y="3012.4" width="17.5" height="16.9" fill="#ff7d70"/>
<text class="lg" x="401.2" y="3030.6">Farmer's market</text>
<rect x="377.4" y="3051.6" width="17.5" height="16.9" fill="#507cb4"/>
<text class="lg" x="401.2" y="3069.8">Supermarket</text>
<text class="lt" x="386.4" y="3133.3">Samples</text>
<rect x="378.4" y="3158.8" width="17.5" height="16.9" fill="#b8b8ff"/>
<text class="lg" x="402.2" y="3177">Local chicken</text>
<rect x="378.4" y="3196.7" width="17.5" height="16.9" fill="#70ffa0"/>
<text class="lg" x="402.2" y="3214.9">Black-bone chicken</text>
<rect x="378.4" y="3235.1" width="17.5" height="16.9" fill="#fabea2"/>
<text class="lg" x="402.2" y="3253.3">Sanhuang chicken</text>
<text class="lt" style="font-size:30.9px" x="389.8" y="3309.5">VF classification</text>
<rect x="380.3" y="3333.1" width="17.5" height="16.9" fill="#0568b0"/>
<text class="lg" x="404.5" y="3351.3">Adherence</text>
<rect x="380.3" y="3372.4" width="17.5" height="16.9" fill="#9a3ea0"/>
<text class="lg" x="404.5" y="3390.6">Immune modulation</text>
<rect x="380.3" y="3411.4" width="17.5" height="16.9" fill="#008840"/>
<text class="lg" x="404.5" y="3429.6">Invasion</text>
<rect x="380.3" y="3449.9" width="17.5" height="16.9" fill="#ff6268"/>
<text class="lg" x="404.5" y="3468.1">Motility</text>
<rect x="380.3" y="3488.7" width="17.5" height="16.9" fill="#b8561f"/>
<text class="lg" x="404.5" y="3506.9">Toxin</text>
</svg></body></html>
